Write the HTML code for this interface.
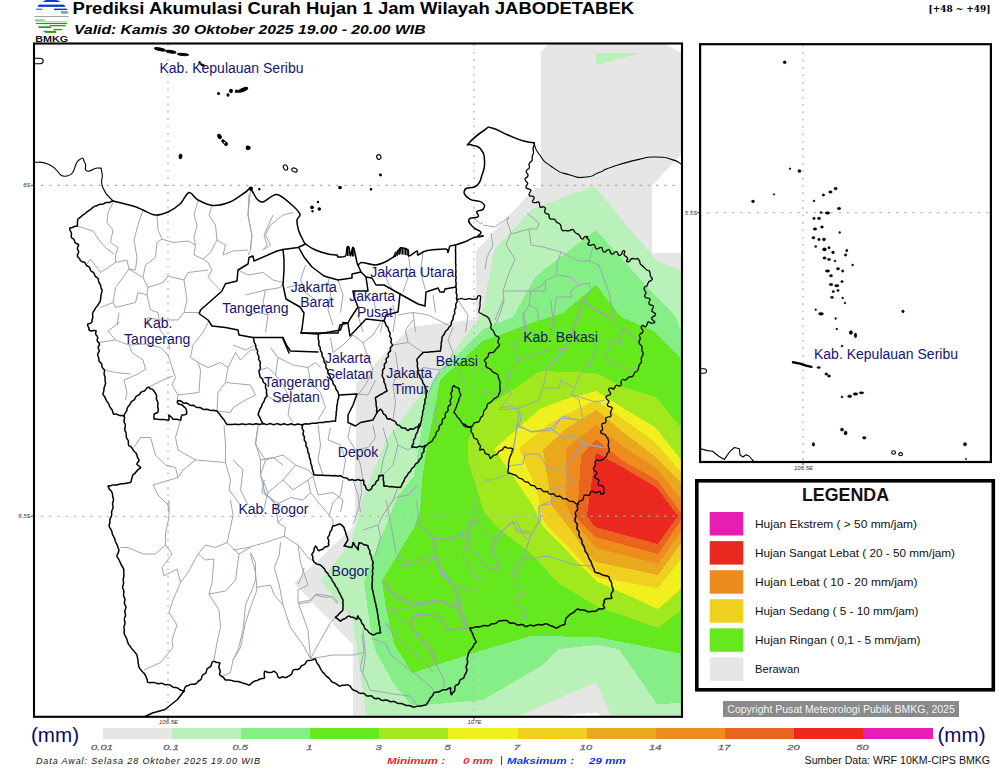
<!DOCTYPE html>
<html lang="id"><head><meta charset="utf-8"><title>Prediksi Akumulasi Curah Hujan 1 Jam Wilayah JABODETABEK</title>
<style>
html,body{margin:0;padding:0;background:#fff;}
body{width:1000px;height:769px;overflow:hidden;font-family:"Liberation Sans",sans-serif;}
svg{display:block;}
text{font-family:"Liberation Sans",sans-serif;}
.lab{font-size:14px;fill:#15156e;}
.leg{font-size:11px;fill:#111;}
.tick{font-size:7.8px;font-style:italic;fill:#666;stroke:#777;stroke-width:0.35;}
.ax{font-size:6px;font-style:italic;fill:#333;}
</style></head><body>
<svg width="1000" height="769" viewBox="0 0 1000 769">
<defs>
<clipPath id="cm"><rect x="34" y="43.5" width="648" height="673"/></clipPath>
<clipPath id="ci"><rect x="700" y="44" width="291" height="418"/></clipPath>
<filter id="bl" x="-10%" y="-30%" width="120%" height="160%"><feGaussianBlur stdDeviation="0.35"/></filter>
</defs>
<rect width="1000" height="769" fill="#fff"/>

<g clip-path="url(#cm)">
<g shape-rendering="crispEdges">
<polygon points="541,52 548,44 665,44 682,53 682,153 652,186 652,252.6 682,252.6 682,716 353,716 353,645 294,583 355,525 356,384 410,327 476,319.5 476,251 535,188 541,188" fill="#e6e6e4"/>
<polygon points="596.4,53 640,53 596.4,65" fill="#baf0ba"/>
<polygon points="594,186 657,261 682,271 682,716 611,716 596,682 519,716 366,716 360,668 352,618 321,581 352,540 362,500 386,440 478,320 483.5,307 494,250 532,209" fill="#baf0ba"/>
<polygon points="596,230 657,298 675,315 682,333 682,703 657,704 619,649 596,645 577,647 559,649 541,666 483,700 412,706 394,684 376,652 372,638 364,582 380,540 398,496 414,476 420,440 426,400 436,376 483,329 513,317 536,276" fill="#86ee86"/>
<polygon points="596,285 621,317 653,331 682,360 682,654 658,649 596,637 531,636 483,650 412,673 394,644 386,608 382,581 398,554 414,528 420,512 422,480 428,440 434,412 440,380 483,341 537,321 563,313" fill="#66e81e"/>
<polygon points="596,373 623,387 656,397 682,429 682,609 658,628 596,606 558,583 530,552 500,530 484,512 468,460 468,440 483,410 506,394 540,371" fill="#a2e81e"/>
<polygon points="596,391 623,408 656,428 682,461 682,588 658,609 596,581 543,526 533,506 513,476 494,449 540,409 563,400" fill="#f0f01e"/>
<polygon points="596,400 623,419 656,443 682,473 682,558 658,588 596,577 575,554 551,530 543,520 538,494 519,448 549,424 563,416" fill="#f0d01e"/>
<polygon points="596,410 623,432 656,457 682,484 682,542 658,575 596,562 587,554 571,530 552,506 543,450 567,428" fill="#eaa81e"/>
<polygon points="596,425 623,446.5 656,468 682,500 682,530 658,564 596,548 573,520 566,504 566,448" fill="#ee8c1e"/>
<polygon points="596,439 623,461 657,480 682,514 682,519 658,554 595,537 577,518 581,456" fill="#ea6420"/>
<polygon points="596,453 623,467.5 657,488 678,516 658,544 595,527 587,516 591,486" fill="#ea2820"/>
<polygon points="557,716 597,712.5 600,716" fill="#fff"/>
</g>
<g fill="none" stroke="#9ea5b3" stroke-width="1" stroke-linejoin="round">
<path d="M113 202.5 L108 212.5 L107 222.5 L113 230 L110.5 242.5 L118 247.5 L115.5 255 L115.5 262.5"/>
<path d="M77 226 L93 231 L99 240 L105.5 247.5 L114 254"/>
<path d="M87 264 L90.5 259 L100.5 272.5 L115.5 262.5 L127 260 L129 269 L115.5 287.5 L113 302.5 L100.5 307.5"/>
<path d="M143 210 L138 225 L134 240 L137 257.5 L135.5 270 L129 269"/>
<path d="M157 215 L158 230 L162 239 L157 242.5 L155.5 257.5 L145.5 265 L143 277.5 L148 287.5"/>
<path d="M162 239 L173 242.5 L188 241 L195.5 245"/>
<path d="M198 201 L194 215 L197 225 L194 237.5 L195.5 245 L194 255 L203 259 L208 262.5"/>
<path d="M212 206 L209 215 L215.5 225 L217 240 L210.5 252.5 L203 259"/>
<path d="M249 194 L248 215 L252 235 L250.5 250 L248 255"/>
<path d="M217 240 L225.5 245 L223 255 L233 251 L248 250"/>
<path d="M208 262.5 L212 270 L208 277.5 L220.5 290"/>
<path d="M208 270 L188 272.5 L184 280 L187 300 L184 312.5 L199 312.5"/>
<path d="M148 287.5 L163 282.5 L168 276 L184 280"/>
<path d="M129 269 L143 277.5"/>
<path d="M148 287.5 L147 295 L138 292.5 L135.5 302.5 L115.5 307.5 L113 302.5"/>
<path d="M147 295 L150.5 310 L158 312.5 L159 320 L148 317.5 L147 325"/>
<path d="M159 320 L178 320 L184 312.5"/>
<path d="M273 215 L264 235 L267 245 L263 250"/>
<path d="M119 312.5 L117 325 L119 322.5"/>
<path d="M99 342.5 L115.5 340 L108 331 L119 322.5"/>
<path d="M115.5 340 L129 345 L132 352.5 L143 360 L145.5 369 L138 374 L124 380 L127 392.5 L125.5 400"/>
<path d="M104 370 L115.5 372.5 L130.5 374"/>
<path d="M129 345 L145.5 344 L160.5 347.5 L168 355 L173 370 L175.5 377.5 L172 385 L178 395 L177 401"/>
<path d="M149 387 L163 380 L173 376"/>
<path d="M193 345 L190.5 357.5 L198 362.5 L200.5 370 L199 392.5 L178 395"/>
<path d="M193 345 L203 332.5 L208 322.5"/>
<path d="M198 362.5 L208 367.5 L220.5 362.5 L228 367.5 L225.5 382.5 L218 392.5 L217 411"/>
<path d="M228 367.5 L235.5 352.5 L240.5 360 L250.5 350 L257 350"/>
<path d="M225.5 382.5 L250.5 385 L255.5 395 L245.5 400 L233 407.5 L230.5 412.5 L217 411"/>
<path d="M180.5 420 L175.5 437.5 L178 450 L195.5 460 L225.5 462.5"/>
<path d="M224 425 L225.5 445 L225.5 462.5 L230.5 480 L229 490 L240.5 505"/>
<path d="M195.5 460 L183 470 L178 477.5 L153 485 L158 495 L168 505 L169 512"/>
<path d="M134 447.5 L140.5 437.5 L150.5 437.5 L155.5 455 L165.5 465 L175.5 467.5 L178 477.5"/>
<path d="M258 425 L255.5 442.5 L260.5 460 L260.5 475 L265.5 495 L280.5 505"/>
<path d="M260.5 460 L273 457.5 L283 465"/>
<path d="M159 320 L160 330 L168 340 L170 350"/>
<path d="M169 500 L169 517.5 L165.5 532.5 L165.5 545 L155.5 554 L143 554 L128 547.5 L120.5 547.5"/>
<path d="M165.5 545 L172 554 L162 567.5 L164 576 L177 569 L180.5 582.5 L173 600 L169 612.5 L177 625 L172 640 L173 647.5 L160.5 662.5 L144 670"/>
<path d="M180.5 582.5 L188 572.5 L198 554 L205.5 545 L215.5 547.5 L227 542.5 L230.5 527.5 L233 515 L230.5 500"/>
<path d="M198 554 L205.5 560 L214 559 L212 582.5 L209 594 L219 610 L220.5 627.5 L217 642.5 L214 660"/>
<path d="M209 594 L225.5 591 L235.5 580 L239 554 L227 542.5"/>
<path d="M239 554 L250.5 547.5"/>
<path d="M250.5 554 L255.5 572.5 L257 590 L250.5 607.5 L245.5 622.5 L240.5 647.5 L233 660 L230.5 672.5 L223 676"/>
<path d="M233 550 L248 547.5 L265.5 542.5 L284.25 536.25 L285.5 527.5 L278 522.5 L283 517.5"/>
<path d="M284.25 536.25 L298 545 L308 557.5 L315.5 562.5"/>
<path d="M280.5 542.5 L279.25 555 L274.25 567.5 L279.25 585 L283 605 L290.5 627.5 L303 645 L310.5 658.75"/>
<path d="M250.5 552.5 L255.5 562.5 L255.5 580 L253 587.5 L245.5 605 L243 630 L238 650 L233 660"/>
<path d="M255.5 587.5 L270.5 585 L274.25 595 L283 605"/>
<path d="M298 545 L300.5 562.5 L308 585 L298 590 L298 602.5 L308 630 L310.5 658.75"/>
<path d="M298 602.5 L310.5 600 L315.5 595 L325.5 597.5 L333 596.25 L338 602.5"/>
<path d="M310.5 658.75 L320.5 640 L330.5 622.5 L335.5 617.5"/>
<path d="M310.5 658.75 L333 655 L353 655 L363 652.5"/>
<path d="M343 480 L340.5 495 L333 502.5 L329.25 515 L333 520 L333 526.25"/>
<path d="M263 490 L275.5 505 L290.5 497.5 L303 500 L310.5 492.5 L308 480"/>
<path d="M310.5 492.5 L320.5 505 L329.25 515"/>
<path d="M275.5 505 L278 522.5"/>
<path d="M353 525 L358 510 L361.75 492.5 L360.5 480"/>
<path d="M363 530 L378 525 L383 515 L393 500 L398 487.5"/>
<path d="M378 525 L380.5 537.5 L375.5 555"/>
<path d="M383 515 L395.5 497.5 L408 495 L418 485"/>
<path d="M418 525 L433 537.5 L448 540 L468 532.5 L473 520 L483 525"/>
<path d="M433 537.5 L435.5 555 L418 560 L408 562.5 L398 555"/>
<path d="M435.5 555 L440.5 572.5 L453 585 L458 597.5 L468 627.5"/>
<path d="M383 580 L393 592.5 L408 602.5 L423 605 L438 600 L453 605 L458 597.5"/>
<path d="M410.5 620 L423 615 L438 616.25 L448 630 L468 627.5"/>
<path d="M410.5 620 L415.5 635 L430.5 650 L438 665"/>
<path d="M385.5 622.5 L393 635 L408 647.5 L423 660 L433 672.25"/>
<path d="M363 630 L365.5 655 L363 672.25"/>
<path d="M468 532.5 L463 555 L473 575 L483 580"/>
<path d="M453 585 L473 590"/>
<path d="M264.25 480 L261.75 492.5 L270.5 497.5 L275.5 505"/>
<path d="M233 345 L245.5 350 L255.5 345"/>
<path d="M270.5 347.5 L278 357.5 L293 365 L308 367.5 L315.5 362.5 L320.5 367.5"/>
<path d="M278 357.5 L275.5 375 L283 385 L290.5 400 L288 415 L293 422.5"/>
<path d="M308 367.5 L310.5 382.5 L320.5 392.5 L325.5 407.5 L318 420"/>
<path d="M260.5 370 L268 367.5 L275.5 375"/>
<path d="M265.5 395 L278 402.5 L290.5 400"/>
<path d="M330.5 337.5 L333 352.5 L343 345 L353 335 L363 342.5 L373 335 L380.5 322.5"/>
<path d="M363 342.5 L368 357.5 L373 370 L365.5 385 L358 395"/>
<path d="M330.5 427.5 L328 440 L340.5 445 L345.5 460 L343 475"/>
<path d="M318 425 L320.5 445 L318 460 L323 475"/>
<path d="M350.5 425 L348 437.5 L355.5 450 L368 447.5 L375.5 437.5 L373 425"/>
<path d="M355.5 450 L360.5 465 L363 480"/>
<path d="M393 345 L408 342.5 L423 352.5"/>
<path d="M395.5 352.5 L398 370 L393 385 L395.5 402.5 L393 420"/>
<path d="M408 342.5 L405.5 330 L413 320"/>
<path d="M375.5 380 L368 395 L356.75 393.75"/>
<path d="M258 427.5 L255.5 445 L265.5 460 L260.5 475 L268 492.5 L263 512.25"/>
<path d="M265.5 460 L283 455 L295.5 465 L308 470 L313 475"/>
<path d="M268 492.5 L283 480 L293 490 L308 480 L313 476.25"/>
<path d="M283 480 L295.5 465"/>
<path d="M313 476.25 L318 495 L333 492.5 L343 500 L340.5 512.25"/>
<path d="M233 460 L243 470 L240.5 490 L248 505"/>
<path d="M353 480 L358 495 L360.5 512.25"/>
<path d="M440.5 402.5 L433 415 L438 427.5"/>
<path d="M458 370 L465.5 385 L460.5 395"/>
<path d="M473 362.5 L483 370"/>
<path d="M383 427.5 L388 445 L383 460 L380.5 475"/>
<path d="M393 430 L398 445 L408 450 L411.75 447.5"/>
<path d="M398 445 L393 465 L383 475"/>
<path d="M428 395 L433 382.5 L440.5 370 L448 365 L453 352.5 L448 340 L453 327.5"/>
<path d="M440.5 370 L423 367.5 L418 372.5"/>
<path d="M250.5 190 L248 215 L251.75 235 L250.5 250"/>
<path d="M293 212.5 L283 215 L270.5 225 L265.5 235 L270.5 245 L263 250"/>
<path d="M305.5 265 L300.5 280 L305.5 292.5 L315.5 300"/>
<path d="M328 277.5 L330.5 295 L328 310 L333 325"/>
<path d="M286.75 287.5 L298 285 L305.5 292.5"/>
<path d="M338 280 L343 295 L340.5 312.5"/>
<path d="M408 252.5 L410.5 270 L405.5 285 L403 292.5"/>
<path d="M423 252.5 L420.5 272.5 L425.5 290"/>
<path d="M383 270 L388 282.5 L393 290"/>
<path d="M265.5 290 L263 302.5 L268 315 L265.5 332.25"/>
<path d="M265.5 290 L280.5 287.5 L283 282.5"/>
<path d="M245.5 295 L255.5 292.5 L265.5 290"/>
<path d="M248 315 L258 312.5 L268 315"/>
<path d="M238 270 L248 275 L263 272.5 L273 280 L283 282.5"/>
<path d="M458 300 L468 315 L465.5 332.25"/>
<path d="M398 315 L413 312.5 L428 315 L450.5 326.25"/>
<path d="M413 312.5 L415.5 332.25"/>
<path d="M373 295 L375.5 310 L383 320 L380.5 332.25"/>
<path d="M358 315 L363 332.25"/>
<path d="M393 305 L395.5 315 L393 332.25"/>
<path d="M433 295 L435.5 312.5"/>
<path d="M473 217.5 L480.5 223.75 L483 222.5"/>
<path d="M509 217 L507 221 L511 233 L506 245 L515 259 L509 273 L503 291 L504 301 L499 317 L495 325"/>
<path d="M483 225 L495 227 L509 217"/>
<path d="M527 213 L539 223 L537 229 L529 229 L511 234"/>
<path d="M529 229 L531 245 L543 247 L561 252 L579 261 L589 261 L593 247"/>
<path d="M561 252 L557 263 L557 275 L545 281 L546 291 L503 291"/>
<path d="M557 275 L571 277 L579 285 L589 283 L592 291 L583 299 L587 303"/>
<path d="M579 285 L571 291 L571 297 L557 297 L553 317 L551 333"/>
<path d="M545 281 L543 285 L531 291 L529 305 L523 315 L525 333"/>
<path d="M589 261 L599 265 L609 293 L613 313 L615 319"/>
<path d="M583 299 L579 313 L571 333"/>
<path d="M583 301 L595 311 L607 317 L623 329 L639 341"/>
<path d="M623 329 L619 337 L621 345"/>
<path d="M529 305 L537 309 L539 321"/>
<path d="M491 233 L493 245 L487 257 L485 269"/>
<path d="M503 300 L495 320"/>
<path d="M523 312 L527 328 L513 344 L519 360 L509 372 L507 388 L511 394 L499 410 L519 408 L521 420 L517 428"/>
<path d="M551 300 L553 324 L549 332"/>
<path d="M579 300 L581 312 L571 334 L567 348 L547 350 L539 354 L523 358 L519 360"/>
<path d="M583 300 L595 310 L613 318 L623 328 L635 338 L641 342"/>
<path d="M623 328 L619 336 L621 344 L611 340 L605 360 L619 366 L627 370 L635 368"/>
<path d="M597 340 L593 360 L587 366 L579 376 L575 388 L571 394 L579 400 L583 420"/>
<path d="M567 348 L563 352 L547 368 L543 388 L559 388 L561 380 L567 384 L575 388"/>
<path d="M543 388 L539 400 L519 408"/>
<path d="M571 394 L583 398 L595 402 L605 400"/>
<path d="M517 424 L531 432 L551 428 L563 416 L579 420 L583 420"/>
<path d="M551 428 L563 438 L575 436 L587 444 L607 448"/>
<path d="M517 424 L515 440 L513 453.8"/>
<path d="M507 388 L495 394 L483 392"/>
<path d="M499 408 L513 406 L519 414 L517 426 L533 432 L553 430 L561 418 L579 420"/>
<path d="M517 426 L515 440 L513 448"/>
<path d="M553 430 L563 438 L573 436 L585 444 L603 448"/>
<path d="M585 444 L571 458 L565 468 L567 476 L575 480 L565 486 L549 490 L545 492"/>
<path d="M525 454 L539 454 L547 468 L565 468"/>
<path d="M509 466 L523 464 L525 454"/>
<path d="M483 480 L491 480 L509 474"/>
<path d="M553 496 L551 504 L539 506 L539 520 L529 540 L525 553.8"/>
<path d="M483 530 L495 540 L509 524 L517 522 L525 538 L529 540"/>
<path d="M553 500 L539 506 L541 520 L531 534 L523 560 L513 580 L523 592 L515 600 L527 614 L521 620 L522 626"/>
<path d="M523 560 L547 556 L575 565 L591 566"/>
<path d="M513 521 L499 534 L491 554 L499 560 L497 570 L483 566"/>
<path d="M513 521 L517 532 L531 534"/>
<path d="M418 524 L434 538 L458 538 L474 518 L474 500"/>
<path d="M434 538 L436 556 L422 566 L400 564 L398 558"/>
<path d="M436 556 L446 576 L458 594 L458 608 L468 628"/>
<path d="M384 580 L390 594 L410 604 L436 600 L450 606 L458 608"/>
<path d="M388 608 L410 608 L416 604"/>
<path d="M410 620 L418 614 L438 616 L450 630 L468 628"/>
<path d="M410 620 L414 632 L430 646 L434 653.8"/>
<path d="M474 518 L468 536 L468 548 L478 554 L484 566 L498 570 L500 562"/>
<path d="M490 556 L496 536 L512 522 L518 530 L530 532"/>
<path d="M512 576 L518 560 L526 556"/>
<path d="M416 500 L418 512 L418 524"/>
<path d="M386 500 L390 520 L396 552 L398 558"/>
<path d="M298 584 L302 576 L304 568"/>
<path d="M298 604 L310 602 L316 594 L330 596 L338 604"/>
<path d="M362 634 L364 652 L360 668 L366 680 L370 690 L394 694 L410 696 L418 706"/>
<path d="M372 638 L386 644 L390 654 L402 664 L418 676 L432 688 L434 694"/>
<path d="M386 608 L402 620 L418 634 L428 648 L438 668 L444 680 L444 688"/>
<path d="M386 624 L398 634"/>
<path d="M410 620 L418 614 L438 616 L448 630 L468 628"/>
<path d="M386 588 L402 598 L418 606 L438 600 L456 606 L460 618 L468 628"/>
<path d="M438 568 L450 580 L458 594 L460 618"/>
</g>
<g stroke="#adadad" fill="none">
<path d="M41 185.4H682M41 516.2H682" stroke-width="1.1" stroke-dasharray="2.4 5.8"/><path d="M168 44.5V716M474 44.5V716" stroke-width="1.3" stroke-dasharray="1.6 5.78"/>
</g>
<g fill="none" stroke="#000" stroke-width="1.1" stroke-linejoin="round">
<path d="M35 162C40.0 163.0 39.3 160.3 50 165C60.7 169.7 57.3 177.7 67 176C76.7 174.3 73.0 164.3 79 160C85.0 155.7 82.3 159.3 85 163C87.7 166.7 82.7 169.3 87 171C91.3 172.7 93.0 167.3 98 168C103.0 168.7 100.3 166.3 102 173C103.7 179.7 99.3 178.7 103 188C106.7 197.3 109.7 196.7 113 201"/>
<path d="M534 142.7C535.7 146.5 533.0 145.9 539 154C545.0 162.1 541.7 160.0 552 167C562.3 174.0 558.7 171.7 570 175C581.3 178.3 576.3 177.8 586 177C595.7 176.2 590.3 175.9 599 172.6C607.7 169.3 599.0 171.3 612 167C625.0 162.7 623.3 162.9 638 159.6C652.7 156.3 644.7 157.0 656 157C667.3 157.0 663.7 157.3 672 159.6C680.3 161.9 678.0 162.5 681 164"/>
</g>
<g fill="none" stroke="#000" stroke-width="1.5" stroke-linejoin="round" stroke-linecap="round">
<path d="M113 201C116.0 201.8 128.5 204.7 133 206C137.5 207.3 139.7 208.7 143 210C146.3 211.3 151.2 214.7 155 215C158.8 215.3 164.2 213.7 168 212C171.8 210.3 176.8 206.9 180 204C183.2 201.1 186.3 193.1 189 192.5C191.7 191.9 194.4 198.1 198 200C201.6 201.9 208.2 205.2 213 205.5C217.8 205.8 225.2 203.9 230 202C234.8 200.1 241.9 194.4 245 192.5C248.1 190.6 248.7 188.0 250.5 189C252.3 190.0 255.1 197.1 257 199C258.9 200.9 260.0 202.7 263 202C266.0 201.3 272.5 193.9 277 194.5C281.5 195.1 289.6 203.0 293 206C296.4 209.0 299.4 212.4 300 214.5C300.6 216.6 297.2 217.7 297 220C296.8 222.3 297.6 227.0 298.5 230C299.4 233.0 301.9 237.9 303 240C304.1 242.1 303.6 242.5 305.5 244C307.4 245.5 312.1 248.5 315.5 250C318.9 251.5 324.8 253.2 328 254C331.2 254.8 335.5 254.6 337 255C338.5 255.4 336.7 256.9 338 257C339.3 257.1 344.1 257.4 345.5 256C346.9 254.6 346.5 248.8 347 247.5C347.5 246.2 348.5 246.2 349 247.5C349.5 248.8 350.0 255.9 350.5 256C351.0 256.1 352.0 249.1 352.5 248C353.0 246.9 353.3 246.8 354 249C354.7 251.2 356.4 260.1 357 262.5C357.6 264.9 357.2 265.0 358 265C358.8 265.0 359.4 262.5 362 262.5C364.6 262.5 371.8 265.2 375.5 265C379.2 264.8 383.8 262.6 387 261C390.2 259.4 395.0 255.9 397 254C399.0 252.1 398.9 248.6 400.5 248C402.1 247.4 406.7 248.8 408 250C409.3 251.2 407.6 255.8 409 256C410.4 256.1 415.6 251.2 417 251C418.4 250.8 416.7 255.0 418 255C419.3 255.0 421.4 251.9 425.5 251C429.6 250.1 442.1 248.8 445.5 249C448.9 249.2 447.3 252.9 448 252.5C448.7 252.1 448.9 247.1 450 246C451.1 244.9 452.9 245.8 455.5 245C458.1 244.2 464.2 242.1 467 241C469.8 239.9 471.6 238.2 474 237.5C476.4 236.8 481.6 236.2 483 236"/>
<path d="M113 201C112.5 201.1 112.1 201.1 111.2 201.5C110.3 201.9 110.5 202.2 109.5 202.4C108.5 202.6 108.6 202.3 107.6 202.4C106.6 202.5 106.7 202.3 105.7 202.6C104.7 202.9 104.9 203.1 104 203.6C103.1 204.1 103.3 204.1 102.3 204.3C101.3 204.5 101.4 204.2 100.4 204.3C99.4 204.4 99.5 204.4 98.5 204.8C97.5 205.2 97.7 205.4 96.8 205.7C95.9 206.0 96.0 205.7 95.1 206.1C94.2 206.5 94.2 206.5 93.3 207.1C92.4 207.7 92.6 207.7 91.8 208.4C91.0 209.1 91.2 209.1 90.3 209.7C89.4 210.3 89.5 210.2 88.6 210.8C87.7 211.4 87.7 211.3 86.9 211.9C86.1 212.5 86.2 212.5 85.5 213.2C84.8 213.9 84.9 213.8 84.1 214.4C83.3 215.0 83.2 214.8 82.4 215.4C81.6 216.0 81.7 215.9 81 216.6C80.3 217.3 80.4 217.3 79.6 217.9C78.8 218.5 78.6 218.3 78.1 219C77.6 219.7 77.8 219.8 77.6 220.7C77.4 221.6 77.4 221.5 77.4 222.5C77.4 223.5 77.6 223.3 77.5 224.3C77.4 225.3 77.6 225.6 77 226.1C76.4 226.6 76.1 226.0 75.2 226.2C74.3 226.4 74.4 226.6 73.5 227C72.6 227.4 72.7 227.5 71.8 227.8C70.9 228.1 70.5 227.4 70 228C69.5 228.6 69.7 229.0 70 230.1C70.3 231.2 70.6 231.0 71 232C71.4 233.0 71.4 232.8 71.5 233.9C71.6 235.0 71.1 235.0 71.2 236.1C71.3 237.2 71.3 237.3 71.9 238.1C72.5 238.9 72.9 238.3 73.6 239C74.3 239.7 74.0 239.8 74.4 240.8C74.8 241.8 74.5 241.9 75.1 242.6C75.7 243.3 75.9 243.0 76.8 243.6C77.7 244.2 78.3 244.1 78.6 245C78.9 245.9 78.1 245.9 77.8 246.9C77.5 247.9 77.3 247.7 77.4 248.7C77.5 249.7 78.0 249.6 78.3 250.6C78.6 251.6 78.8 251.4 78.6 252.4C78.4 253.4 77.9 253.3 77.6 254.3C77.3 255.3 77.3 255.2 77.5 256.1C77.7 257.0 77.7 256.9 78.3 257.6C78.9 258.3 79.1 258.0 79.7 258.9C80.3 259.8 79.9 260.1 80.6 260.8C81.3 261.5 81.4 261.3 82.4 261.7C83.4 262.1 83.6 261.6 84.4 262.2C85.2 262.8 84.9 262.9 85.5 263.8C86.1 264.7 85.8 264.7 86.5 265.4C87.2 266.1 87.4 265.9 88.2 266.4C89.0 266.9 89.1 266.6 89.6 267.4C90.1 268.2 89.8 268.4 90.2 269.3C90.6 270.2 90.4 270.2 91 270.9C91.6 271.6 91.8 271.3 92.6 271.9C93.4 272.5 93.5 272.3 94 273.1C94.5 273.9 94.2 274.0 94.6 274.9C95.0 275.8 94.9 275.7 95.5 276.4C96.1 277.1 96.3 276.8 97 277.5C97.7 278.2 97.9 278.0 98.3 278.9C98.7 279.8 98.3 279.9 98.5 280.9C98.7 281.9 98.6 281.8 99.1 282.7C99.6 283.6 99.7 283.4 100.2 284.4C100.7 285.4 100.6 285.3 100.8 286.3C101.0 287.3 100.8 287.2 101.1 288.2C101.4 289.2 101.8 289.0 102 290C102.2 291.0 102.0 290.9 101.8 292C101.6 293.1 101.5 292.9 101.3 294C101.1 295.1 101.0 294.9 100.9 296C100.8 297.1 100.9 296.9 100.8 298C100.7 299.1 100.6 299.0 100.4 300C100.2 301.0 100.3 300.9 99.9 301.9C99.5 302.9 99.4 302.8 98.8 303.7C98.2 304.6 98.4 304.5 97.8 305.4C97.2 306.3 97.1 306.0 96.4 306.9C95.7 307.8 95.8 307.7 95.2 308.6C94.6 309.5 94.9 309.5 94.3 310.4C93.7 311.3 93.6 311.0 93.1 312C92.6 313.0 92.7 312.9 92.6 314C92.5 315.1 92.7 314.9 92.7 316C92.7 317.1 92.9 316.9 92.7 318C92.5 319.1 92.2 319.0 92 320C91.8 321.0 92.4 320.9 91.9 321.8C91.4 322.7 91.3 322.8 90.2 323.4C89.1 324.0 88.5 323.3 87.9 324C87.3 324.7 87.6 325.1 87.9 326.1C88.2 327.1 88.7 326.9 89 327.9C89.3 328.9 88.4 328.9 89 329.7C89.6 330.5 89.9 330.7 91.1 330.9C92.3 331.1 92.1 330.6 93.4 330.6C94.7 330.6 95.4 330.3 96 330.9C96.6 331.5 95.6 331.8 95.6 332.8C95.6 333.8 95.5 333.7 95.9 334.6C96.3 335.5 96.7 335.2 97.2 336.1C97.7 337.0 97.7 336.9 97.7 337.9C97.7 338.9 97.2 338.9 97.2 339.9C97.2 340.9 97.2 340.7 97.7 341.6C98.2 342.5 98.6 342.2 99.1 343.1C99.6 344.0 99.6 344.0 99.4 345C99.2 346.0 98.6 345.8 98.3 346.7C98.0 347.6 98.2 347.5 98.4 348.5C98.6 349.5 99.1 349.4 99.2 350.4C99.3 351.4 99.1 351.3 98.7 352.2C98.3 353.1 97.9 353.0 97.7 353.9C97.5 354.8 97.7 354.8 97.9 355.7C98.1 356.6 98.2 356.3 98.5 357.3C98.8 358.3 98.7 358.2 98.9 359.3C99.1 360.4 98.7 360.4 99.2 361.3C99.7 362.2 100.0 361.9 100.7 362.8C101.4 363.7 101.5 363.5 101.8 364.5C102.1 365.5 101.7 365.6 102 366.6C102.3 367.6 102.3 367.4 102.9 368.3C103.5 369.2 104.0 369.1 104.4 370C104.8 370.9 104.5 370.8 104.4 371.8C104.3 372.8 104.1 372.6 104.1 373.6C104.1 374.6 104.2 374.5 104.5 375.4C104.8 376.3 104.9 376.2 105.1 377.1C105.3 378.0 105.1 377.9 105.1 378.9C105.1 379.9 105.0 379.7 105.1 380.7C105.2 381.7 105.4 381.5 105.5 382.5C105.6 383.5 105.5 383.5 105.3 384.5C105.1 385.5 104.9 385.3 104.6 386.3C104.3 387.3 104.3 387.2 104.1 388.2C103.9 389.2 104.1 389.2 103.9 390.2C103.7 391.2 103.8 391.1 103.5 392.1C103.2 393.1 102.8 393.1 102.9 394.1C103.0 395.1 103.3 394.8 103.9 395.7C104.5 396.6 104.5 396.4 105 397.3C105.5 398.2 105.4 398.2 105.8 399.1C106.2 400.0 106.1 399.9 106.6 400.8C107.1 401.7 107.1 401.5 107.7 402.4C108.3 403.3 108.3 403.1 108.8 404C109.3 404.9 109.1 404.9 109.5 405.9C109.9 406.9 109.8 406.8 110.3 407.6C110.8 408.4 110.9 408.2 111.5 409C112.1 409.8 112.0 409.8 112.4 410.7C112.8 411.6 112.5 411.6 112.9 412.5C113.3 413.4 113.1 413.8 114 414.2C114.9 414.6 115.0 413.8 116.1 414C117.2 414.2 117.0 414.4 118 414.8C119.0 415.2 118.8 415.4 119.9 415.6C121.0 415.8 120.9 415.3 122 415.4C123.1 415.5 123.5 415.8 124 416"/>
<path d="M124 416 L124.6 414.1 L125.7 412.4 L126.8 410.6 L127.1 408.6 L128 406.7 L129.3 405.3 L130.4 403.6 L131.2 401.8 L132.9 400.7 L134.5 399.6 L135.3 397.7 L136.4 396.1 L138.2 395.3 L139.8 394.2 L140.8 392.3 L142.6 391.4 L144.6 390.9 L145.9 389.3 L147.1 387.7 L148.9 387.2 L150.3 388.7 L152.6 389.4 L154 391 L155 392.6 L156 394.3 L156.7 396 L156.4 397.9 L156.5 399.7 L157.5 401.4 L158 403.1 L157.8 405 L157.7 406.9 L158.2 408.8 L158.2 410.6 L157.9 412.3 L156 413.2 L154.2 414 L153.9 416.5 L154 419 L155.9 419 L157.7 419.3 L159.6 419.5 L161.5 419.5 L163.4 419.5 L165.2 419.8 L167.1 420 L168.9 420 L169 417.5 L168.9 415.1 L170.4 416.3 L171.8 417.6 L173 419.2 L174.9 419.3 L176.8 419.3 L178.6 419.7 L180.8 420.1 L181 417.4 L182 415 L184.6 414.8 L186.6 414.1 L186.6 411.8 L186.4 409.6 L185.3 407.9 L183.7 406.7 L182.4 405 L180.4 404.5 L178.4 404 L177.2 402.6 L177.9 400.8 L179.8 400.6 L181.5 401.3 L182.8 402.7 L184.6 403.2 L186.5 403 L188.1 403.7 L189.5 405 L191.2 405.4 L193.1 405.2 L194.8 406 L196.2 407.2 L197.9 407.6 L199.8 407.5 L201.4 408.2 L203 409.3 L204.7 409.4 L206.5 409.2 L208.3 409.6 L210 410.3 L211.7 410.4 L213.5 410.3 L215.3 410.7 L216.9 411.1 L218.1 412.5 L219.5 413.9 L220.5 415.5 L221.6 417.1 L222.9 418.5 L224.1 419.9 L225 421.5 L225.9 423.1 L227 424.4 L228.8 424.4 L230.6 424.5 L232.4 424.5 L234.2 424.3 L236 424.3 L237.8 424.5 L239.6 424.5 L241.4 424.1 L243.2 424.1 L245 424.5 L246.8 424.4 L248.6 423.9 L250.4 424 L252.2 424.5 L254 424.3 L255.8 423.7 L257.6 424 L259.4 424.5 L261.2 424.1 L263 423.5 L264.8 424 L266.5 424.6 L268.3 424.1 L270.1 423.5 L271.9 424.1 L273.6 424.7 L275.4 424.1 L277.2 423.6 L279 424.2 L280.7 424.8 L282.5 424.2 L284.3 423.7 L286 424.4 L287.8 424.9 L289.6 424.2 L291.4 423.8 L293.1 424.5 L294.9 424.9 L296.7 424.3 L298.5 424 L300.2 424.6 L302 424.9 L303.7 424.2 L305.5 423.8 L307.3 424.1 L309.1 424 L310.8 423.5 L312.6 423.2 L314.4 423.3 L316.1 423.2 L317.9 422.7 L319.6 422.5 L321.4 422.6 L323.2 422.4 L324.9 422 L326.7 421.8 L328.5 421.8 L330.2 421.6 L332 421.3 L333.7 421.1 L335.5 421"/>
<path d="M124 416C124.2 416.5 124.6 416.9 124.6 418C124.6 419.1 124.2 419.0 124.1 420.1C124.0 421.2 123.9 421.1 124.2 422.2C124.5 423.3 124.8 423.1 125.1 424.2C125.4 425.3 125.4 425.2 125.3 426.3C125.2 427.4 124.9 427.3 124.8 428.4C124.7 429.5 124.7 429.4 125 430.5C125.3 431.6 125.6 431.3 125.9 432.4C126.2 433.5 126.2 433.3 126.3 434.5C126.4 435.7 126.1 435.7 126.3 436.8C126.5 437.9 126.6 437.8 127.1 438.8C127.6 439.8 127.9 439.6 128.2 440.7C128.5 441.8 128.3 441.7 128.4 442.9C128.5 444.1 128.1 444.3 128.7 445.3C129.3 446.3 129.8 445.9 130.8 446.8C131.8 447.7 131.6 447.5 132.4 448.6C133.2 449.7 132.9 449.8 133.7 450.8C134.5 451.8 134.7 451.6 135.5 452.5C136.3 453.4 136.1 453.3 136.6 454.3C137.1 455.3 136.9 455.3 137.2 456.3C137.5 457.3 137.4 457.2 137.9 458.2C138.4 459.2 138.9 459.0 139 460C139.1 461.0 138.7 461.0 138.1 462.1C137.5 463.2 136.7 463.1 136.9 464.1C137.1 465.1 137.7 464.9 138.7 465.8C139.7 466.7 140.5 466.7 140.6 467.6C140.7 468.5 139.9 468.3 139 469C138.1 469.7 138.2 469.6 137.4 470.4C136.6 471.2 136.7 471.1 136 472C135.3 472.9 135.4 472.8 134.6 473.6C133.8 474.4 133.7 474.0 133 475C132.3 476.0 132.5 476.2 132.1 477.5C131.7 478.8 131.8 478.7 131.4 480C131.0 481.3 131.3 481.8 130.5 482.5C129.7 483.2 129.5 482.5 128.4 482.7C127.3 482.9 127.5 483.0 126.4 483.2C125.3 483.4 125.5 483.5 124.4 483.6C123.3 483.7 123.4 483.6 122.3 483.7C121.2 483.8 121.3 483.7 120.2 483.9C119.1 484.1 119.3 484.2 118.2 484.5C117.1 484.8 117.3 484.9 116.2 485C115.1 485.1 115.2 484.9 114.1 484.9C113.0 484.9 113.2 484.8 112.1 485.1C111.0 485.4 111.1 485.7 110.1 485.9C109.1 486.1 108.6 485.4 108.2 485.9C107.8 486.4 108.3 486.9 108.7 487.9C109.1 488.9 109.1 488.8 109.8 489.7C110.5 490.6 110.7 490.3 111.3 491.2C111.9 492.1 111.9 492.1 112.2 493.1C112.5 494.1 112.4 494.0 112.6 495C112.8 496.0 112.6 495.9 112.8 497C113.0 498.1 113.3 497.9 113.4 499C113.5 500.1 113.5 499.9 113.3 501C113.1 502.1 112.8 501.9 112.6 503C112.4 504.1 112.6 503.8 112.7 505C112.8 506.2 113.2 506.1 113.1 507.4C113.0 508.7 112.7 508.5 112.3 509.7C111.9 510.9 111.8 510.7 111.6 511.9C111.4 513.1 111.8 513.0 111.7 514.2C111.6 515.4 111.7 515.3 111.3 516.4C110.9 517.5 110.6 517.3 110.2 518.4C109.8 519.5 109.9 519.4 109.8 520.6C109.7 521.8 110.1 521.7 109.9 522.9C109.7 524.1 109.2 523.9 109.1 525C109.0 526.1 109.1 526.0 109.5 527C109.9 528.0 109.9 527.9 110.5 528.9C111.1 529.9 111.2 529.7 111.6 530.7C112.0 531.7 111.8 531.6 112.1 532.7C112.4 533.8 112.2 533.7 112.6 534.7C113.0 535.7 113.1 535.5 113.6 536.5C114.1 537.5 114.2 537.4 114.6 538.4C115.0 539.4 114.8 539.3 115.1 540.4C115.4 541.5 115.4 541.4 115.8 542.4C116.2 543.4 116.2 543.2 116.7 544.2C117.2 545.2 117.2 545.1 117.6 546.1C118.0 547.1 117.9 547.1 118.2 548.1C118.5 549.1 118.8 549.0 118.9 550C119.0 551.0 118.7 550.9 118.4 552C118.1 553.1 118.1 552.9 117.7 554C117.3 555.1 116.8 554.9 116.9 556C117.0 557.1 117.3 556.9 117.9 558C118.5 559.1 118.5 558.9 119.1 560C119.7 561.1 119.5 560.9 120 562C120.5 563.1 120.4 563.0 120.9 564.1C121.4 565.2 121.4 565.0 122 566C122.6 567.0 122.6 566.8 123.1 567.9C123.6 569.0 123.7 568.9 123.9 570C124.1 571.1 123.7 571.0 123.7 572.2C123.7 573.4 123.9 573.2 123.9 574.4C123.9 575.6 124.0 575.5 123.8 576.6C123.6 577.7 123.4 577.6 123.3 578.7C123.2 579.8 123.2 579.7 123.3 580.9C123.4 582.1 123.7 581.9 123.6 583.1C123.5 584.3 123.4 584.1 123.1 585.3C122.8 586.5 122.5 586.4 122.6 587.5C122.7 588.6 123.0 588.5 123.3 589.5C123.6 590.5 123.8 590.3 123.9 591.4C124.0 592.5 123.8 592.4 123.7 593.5C123.6 594.6 123.4 594.5 123.6 595.6C123.8 596.7 123.9 596.5 124.3 597.5C124.7 598.5 124.9 598.3 125 599.4C125.1 600.5 124.7 600.4 124.6 601.5C124.5 602.6 124.3 602.5 124.5 603.6C124.7 604.7 125.0 604.5 125.4 605.5C125.8 606.5 126.1 606.4 126 607.5C125.9 608.6 125.5 608.5 125.2 609.6C124.9 610.7 124.8 610.5 124.8 611.6C124.8 612.7 125.1 612.7 125.3 613.8C125.5 614.9 125.6 614.8 125.4 615.9C125.2 617.0 124.9 616.8 124.6 617.9C124.3 619.0 124.3 618.9 124.4 620C124.5 621.1 124.8 621.0 124.9 622.1C125.0 623.2 125.0 623.1 124.8 624.2C124.6 625.3 124.3 625.1 124.1 626.2C123.9 627.3 123.9 627.2 124 628.3C124.1 629.4 124.4 629.3 124.4 630.4C124.4 631.5 124.0 631.3 124.1 632.4C124.2 633.5 124.2 633.6 124.6 634.7C125.0 635.8 125.0 635.6 125.6 636.7C126.2 637.8 126.2 637.6 126.7 638.7C127.2 639.8 127.0 639.8 127.3 640.9C127.6 642.0 127.5 641.9 128 643C128.5 644.1 128.5 643.9 129.1 644.9C129.7 645.9 129.7 645.7 130.4 646.6C131.1 647.5 130.9 647.5 131.6 648.4C132.3 649.3 132.2 649.1 132.9 650C133.6 650.9 133.7 650.7 134.4 651.6C135.1 652.5 135.0 652.4 135.7 653.3C136.4 654.2 136.5 654.0 136.9 655C137.3 656.0 137.1 656.0 137.3 657.1C137.5 658.2 137.6 658.1 137.8 659.2C138.0 660.3 137.9 660.1 138 661.2C138.1 662.3 138.0 662.3 138.2 663.4C138.4 664.5 138.5 664.3 138.7 665.4C138.9 666.5 138.6 666.4 139.1 667.4C139.6 668.4 139.7 668.2 140.4 669.2C141.1 670.2 140.9 670.1 141.7 671C142.5 671.9 142.5 671.6 143.3 672.5C144.1 673.4 144.0 673.2 144.7 674.2C145.4 675.2 145.3 675.1 145.8 676.1C146.3 677.1 146.0 677.0 146.4 678C146.8 679.0 147.0 678.9 147.3 679.9C147.6 680.9 146.9 681.2 147.5 681.9C148.1 682.6 148.4 682.4 149.5 682.6C150.6 682.8 150.4 682.7 151.5 682.6C152.6 682.5 152.4 682.3 153.5 682.4C154.6 682.5 154.4 682.6 155.5 682.9C156.6 683.2 156.4 683.4 157.5 683.6C158.6 683.8 158.4 683.7 159.5 683.6C160.6 683.5 160.5 683.2 161.6 683.3C162.7 683.4 162.5 683.5 163.5 683.9C164.5 684.3 164.3 684.5 165.4 684.7C166.5 684.9 166.4 684.5 167.5 684.6C168.6 684.7 168.6 684.5 169.7 684.9C170.8 685.3 170.6 685.5 171.6 686.2C172.6 686.9 172.4 687.0 173.5 687.4C174.6 687.8 174.6 687.4 175.8 687.6C177.0 687.8 176.9 687.6 178 688.2C179.1 688.8 178.8 689.1 179.8 689.7C180.8 690.3 180.7 690.2 181.8 690.5C182.9 690.8 183.4 690.9 184 691"/>
<path d="M184 691C184.2 690.3 184.1 689.7 184.7 688.4C185.3 687.1 185.1 686.9 186.1 686.2C187.1 685.5 187.1 686.1 188.3 685.6C189.5 685.1 189.3 684.8 190.5 684.4C191.7 684.0 191.6 684.3 192.9 684.2C194.2 684.1 194.2 684.4 195.3 684C196.4 683.6 196.4 683.6 197.2 682.8C198.0 682.0 197.5 681.9 198.4 681.1C199.3 680.3 199.6 680.7 200.4 679.9C201.2 679.1 201.0 679.3 201.5 678.2C202.0 677.1 201.6 676.9 202.1 675.9C202.6 674.9 202.6 675.1 203.5 674.4C204.4 673.7 204.7 674.0 205.5 673.2C206.3 672.4 206.0 672.4 206.4 671.3C206.8 670.2 206.4 670.1 207 669.1C207.6 668.1 207.7 668.4 208.7 667.7C209.7 667.0 210.0 667.4 210.7 666.5C211.4 665.6 211.0 665.5 211.4 664.4C211.8 663.3 211.5 663.2 212.2 662.3C212.9 661.4 212.8 661.2 213.9 661.2C215.0 661.2 214.8 661.9 216.3 662.4C217.8 662.9 218.8 662.1 219.6 662.9C220.4 663.7 219.4 664.0 219.2 665.3C219.0 666.6 218.7 666.4 218.9 667.6C219.1 668.8 219.6 668.7 219.9 669.9C220.2 671.1 220.2 670.9 220.1 672.2C220.0 673.5 219.3 673.7 219.7 674.8C220.1 675.9 220.6 675.5 221.6 676.2C222.6 676.9 222.7 676.7 223.6 677.6C224.5 678.5 224.1 678.9 225 679.6C225.9 680.3 226.0 680.0 227.1 680.1C228.2 680.2 228.1 680.0 229.3 680.1C230.5 680.2 230.4 680.1 231.5 680.4C232.6 680.7 232.4 680.8 233.5 681.1C234.6 681.4 234.5 681.3 235.7 681.4C236.9 681.5 236.8 681.3 237.9 681.5C239.0 681.7 238.9 681.6 240 682C241.1 682.4 241.0 682.5 242.2 682.9C243.4 683.3 243.3 683.2 244.5 683.5C245.7 683.8 245.6 683.7 246.8 684.1C248.0 684.5 248.0 685.2 249.1 685.1C250.2 685.0 250.0 684.5 251 683.7C252.0 682.9 251.8 682.9 252.9 682.2C254.0 681.5 253.8 681.5 255 681C256.2 680.5 256.1 680.9 257.3 680.4C258.5 679.9 258.2 679.8 259.4 679.3C260.6 678.8 260.4 678.9 261.7 678.6C263.0 678.3 263.6 678.8 264.3 678C265.0 677.2 264.3 677.0 264.3 675.7C264.3 674.4 264.1 674.5 264.3 673.3C264.5 672.1 264.1 671.5 264.9 671.2C265.7 670.9 266.1 671.8 267.4 672.2C268.7 672.6 268.5 672.6 269.8 672.6C271.1 672.6 271.1 672.5 272.1 672.2C273.1 671.9 272.6 671.2 273.6 671.3C274.6 671.4 274.8 671.7 275.8 672.5C276.8 673.3 276.6 673.2 277.2 674.3C277.8 675.4 277.3 675.7 278 676.7C278.7 677.7 279.0 677.9 280 678C281.0 678.1 280.8 677.1 281.9 676.9C283.0 676.7 282.9 677.0 284 677.2C285.1 677.4 285.0 677.7 286.1 677.5C287.2 677.3 287.1 676.9 288 676.4C288.9 675.9 288.4 676.4 289.4 675.7C290.4 675.0 290.8 674.9 291.7 673.7C292.6 672.5 292.0 672.2 292.6 671.1C293.2 670.0 293.1 670.2 294.1 669.7C295.1 669.2 295.1 669.5 296.2 669.4C297.3 669.3 297.3 669.6 298.3 669.3C299.3 669.0 299.4 668.9 300.1 668.1C300.8 667.3 300.3 667.0 301.1 666.2C301.9 665.4 302.0 665.7 303 665.2C304.0 664.7 304.0 664.9 304.8 664.2C305.6 663.5 305.3 663.4 306 662.4C306.7 661.4 306.3 661.1 307.4 660.6C308.5 660.1 308.6 660.7 310 660.5C311.4 660.3 311.1 660.3 312.5 659.9C313.9 659.5 314.3 658.6 315.3 658.9C316.3 659.2 315.7 659.9 316.1 660.9C316.5 661.9 316.3 661.8 316.9 662.8C317.5 663.8 317.5 663.7 318.2 664.6C318.9 665.5 318.8 665.3 319.4 666.3C320.0 667.3 319.8 667.3 320.3 668.3C320.8 669.3 320.7 669.2 321.3 670.2C321.9 671.2 321.9 671.1 322.6 671.9C323.3 672.7 323.3 672.5 324 673.3C324.7 674.1 324.6 674.1 325.3 674.9C326.0 675.7 325.9 675.7 326.7 676.4C327.5 677.1 327.5 676.9 328.3 677.6C329.1 678.3 329.0 678.3 329.7 679.1C330.4 679.9 330.3 679.9 331 680.7C331.7 681.5 331.5 681.5 332.4 682.1C333.3 682.7 333.4 682.4 334.4 682.9C335.4 683.4 335.3 683.3 336.3 683.9C337.3 684.5 337.0 684.6 338 685.2C339.0 685.8 338.8 686.1 340 686.1C341.2 686.1 341.1 685.4 342.4 685.2C343.7 685.0 343.7 685.3 345 685.2C346.3 685.1 346.0 684.5 347.3 684.7C348.6 684.9 348.7 685.0 349.7 685.8C350.7 686.6 350.4 686.8 351.2 687.8C352.0 688.8 351.8 689.0 352.8 689.7C353.8 690.4 354.0 690.1 355.1 690.6C356.2 691.1 356.1 690.8 357.1 691.4C358.1 692.0 357.8 692.4 358.8 692.9C359.8 693.4 359.7 693.3 360.9 693.4C362.1 693.5 362.1 693.0 363.2 693.2C364.3 693.4 364.1 693.6 365.1 694.3C366.1 695.0 365.8 695.5 366.9 695.9C368.0 696.3 368.0 695.9 369.3 695.9C370.6 695.9 370.5 695.5 371.6 696C372.7 696.5 372.4 697.0 373.5 697.7C374.6 698.4 374.4 698.4 375.6 698.6C376.8 698.8 376.8 698.1 378 698.3C379.2 698.5 379.0 698.6 380 699.2C381.0 699.8 380.8 700.1 381.9 700.4C383.0 700.7 382.9 700.4 384 700.3C385.1 700.2 385.0 699.8 386.1 699.9C387.2 700.0 387.0 700.1 388 700.5C389.0 700.9 388.8 701.2 389.9 701.5C391.0 701.8 390.9 701.6 392 701.6C393.1 701.6 393.0 701.4 394.1 701.6C395.2 701.8 395.0 701.9 396 702.4C397.0 702.9 396.8 703.1 397.9 703.4C399.0 703.7 398.9 703.4 400 703.5C401.1 703.6 401.0 703.4 402.1 703.7C403.2 704.0 403.0 704.1 404 704.5C405.0 704.9 404.8 705.0 405.9 705.3C407.0 705.6 406.9 705.4 408 705.5C409.1 705.6 409.0 705.5 410.1 705.8C411.2 706.1 411.0 706.1 412 706.5C413.0 706.9 412.9 707.2 414 707.2C415.1 707.2 414.9 706.9 416 706.6C417.1 706.3 416.9 706.4 418 706.2C419.1 706.0 418.9 706.1 420 706C421.1 705.9 420.9 706.0 422 705.8C423.1 705.6 423.0 705.5 424 705.3C425.0 705.1 425.0 705.4 425.9 704.9C426.8 704.4 426.5 704.2 427.2 703.3C427.9 702.4 427.8 702.6 428.4 701.7C429.0 700.8 428.9 700.8 429.4 699.8C429.9 698.8 429.8 698.9 430.4 698C431.0 697.1 431.1 697.4 431.8 696.5C432.5 695.6 432.4 695.8 433 694.8C433.6 693.8 433.1 693.5 433.9 692.8C434.7 692.1 434.8 692.4 435.9 692.2C437.0 692.0 437.0 692.2 438.1 692C439.2 691.8 439.1 691.8 440.1 691.3C441.1 690.8 440.9 690.6 441.9 690.2C442.9 689.8 442.8 689.8 443.9 689.7C445.0 689.6 445.0 689.9 446.1 689.7C447.2 689.5 446.9 689.3 448.1 688.8C449.3 688.3 449.8 687.5 450.5 687.9C451.2 688.3 450.5 689.0 450.6 690.3C450.7 691.6 450.5 691.6 450.8 692.8C451.1 694.0 451.1 694.9 451.6 694.8C452.1 694.7 451.9 693.7 452.7 692.6C453.5 691.5 454.0 692.0 454.6 690.8C455.2 689.6 454.5 689.6 454.8 688.2C455.1 686.8 454.8 686.6 455.6 685.6C456.4 684.6 456.8 685.3 457.8 684.6C458.8 683.9 458.7 683.9 459.2 682.8C459.7 681.7 459.2 681.5 459.8 680.5C460.4 679.5 460.6 679.7 461.6 679C462.6 678.3 462.9 678.8 463.7 677.9C464.5 677.0 464.0 676.8 464.5 675.7C465.0 674.6 464.9 674.9 465.4 673.9C465.9 672.9 466.0 673.0 466.4 672C466.8 671.0 466.9 671.2 466.9 670.1C466.9 669.0 466.6 669.1 466.4 668C466.2 666.9 466.1 667.1 466.3 666C466.5 664.9 466.9 665.1 467.2 664C467.5 662.9 467.6 663.1 467.6 662C467.6 660.9 467.4 661.1 467.3 660C467.2 658.9 467.1 659.1 467.3 658C467.5 656.9 467.7 657.0 467.9 656C468.1 655.0 467.9 655.2 468.2 654.2C468.5 653.2 468.5 653.2 469 652.2C469.5 651.2 469.4 651.3 470.1 650.4C470.8 649.5 470.8 649.8 471.5 648.9C472.2 648.0 472.1 648.1 472.7 647.2C473.3 646.3 473.1 646.4 473.6 645.4C474.1 644.4 474.0 644.5 474.7 643.6C475.4 642.7 476.0 643.0 476.1 642C476.2 641.0 475.7 641.1 475.2 640C474.7 638.9 474.7 639.1 474.2 638C473.7 636.9 473.8 637.1 473.4 636C473.0 634.9 473.2 635.0 472.7 633.9C472.2 632.8 472.2 633.0 471.7 632C471.2 631.0 471.2 631.2 470.7 630.1C470.2 629.0 469.7 628.6 470 628C470.3 627.4 470.9 628.1 472 627.9C473.1 627.7 472.9 627.7 474 627.4C475.1 627.1 474.9 627.0 476 626.9C477.1 626.8 476.9 626.9 478 626.9C479.1 626.9 478.9 627.0 480 626.8C481.1 626.6 481.0 626.4 482 626.1C483.0 625.8 482.8 625.6 483.9 625.5C485.0 625.4 484.9 625.6 486 625.7C487.1 625.8 487.0 625.9 488.1 625.7C489.2 625.5 489.0 625.4 490 624.9C491.0 624.4 490.8 624.1 492 623.8C493.2 623.5 493.3 624.0 494.5 623.7C495.7 623.4 495.5 623.5 496.6 622.8C497.7 622.1 497.4 621.6 498.5 621.1C499.6 620.6 499.7 620.9 500.8 620.8C501.9 620.7 501.7 620.7 502.8 620.6C503.9 620.5 503.9 620.5 505.1 620.5C506.3 620.5 506.2 620.2 507.2 620.7C508.2 621.2 507.9 621.6 508.9 622.3C509.9 623.0 509.7 623.0 510.8 623.2C511.9 623.4 512.0 622.8 513.1 622.9C514.2 623.0 514.1 623.0 515.1 623.5C516.1 624.0 515.9 624.4 516.9 624.8C517.9 625.2 517.8 625.2 518.9 625.1C520.0 625.0 520.0 624.6 521.1 624.5C522.2 624.4 522.1 624.5 523.1 624.9C524.1 625.3 523.9 625.7 524.9 626.1C525.9 626.5 525.9 626.6 527 626.4C528.1 626.2 527.9 625.7 529 625.4C530.1 625.1 529.9 625.2 531 625.3C532.1 625.4 531.9 625.7 533 625.8C534.1 625.9 533.9 625.8 535 625.5C536.1 625.2 535.9 624.9 537 624.7C538.1 624.5 537.9 624.5 539 624.6C540.1 624.7 539.9 624.9 541 624.9C542.1 624.9 541.9 624.9 543 624.6C544.1 624.3 543.9 624.1 545 623.9C546.1 623.7 546.0 623.6 547.1 623.9C548.2 624.2 548.0 624.6 549.2 625.2C550.4 625.8 550.3 625.6 551.5 626C552.7 626.4 552.6 626.2 553.8 626.8C555.0 627.4 554.9 628.0 556.1 628.1C557.3 628.2 557.2 627.7 558.3 627.1C559.4 626.5 559.2 626.5 560.4 625.9C561.6 625.3 561.5 625.5 562.8 625C564.1 624.5 564.5 624.8 565.1 624C565.7 623.2 565.1 623.1 565.2 622C565.3 620.9 565.4 621.0 565.6 620C565.8 619.0 565.5 619.0 566.1 618.1C566.7 617.2 566.9 617.6 567.7 616.8C568.5 616.0 568.3 616.0 569.2 615.2C570.1 614.4 569.9 614.5 570.9 613.9C571.9 613.3 571.9 613.5 572.9 612.9C573.9 612.3 573.6 612.4 574.5 611.6C575.4 610.8 575.2 610.7 576.1 610C577.0 609.3 576.9 609.0 578 609C579.1 609.0 578.9 609.7 580.1 609.9C581.3 610.1 581.2 609.8 582.4 609.9C583.6 610.0 583.5 609.7 584.6 610.1C585.7 610.5 585.5 610.8 586.6 611.3C587.7 611.8 587.7 611.7 588.8 611.8C589.9 611.9 589.8 611.7 590.9 611.5C592.0 611.3 591.9 611.3 593.1 611.2C594.3 611.1 594.3 611.6 595.5 611.3C596.7 611.0 596.4 610.6 597.5 609.9C598.6 609.2 598.3 608.9 599.5 608.7C600.7 608.5 600.6 609.2 601.9 609C603.2 608.8 604.1 608.8 604.5 608C604.9 607.2 603.8 607.1 603.5 606C603.2 604.9 603.2 605.1 603.5 604C603.8 602.9 604.3 602.9 604.5 602C604.7 601.1 603.6 601.4 604.1 600.5C604.6 599.6 605.0 599.3 606.2 598.8C607.4 598.3 607.2 598.8 608.6 598.6C610.0 598.4 610.9 598.8 611.6 598.1C612.3 597.4 611.4 597.1 611.3 596C611.2 594.9 610.9 595.0 611.2 593.9C611.5 592.8 611.8 593.0 612.3 592C612.8 591.0 613.0 591.1 613.1 590.1C613.2 589.1 613.1 589.2 612.8 588.1C612.5 587.0 612.1 587.1 611.8 585.9C611.5 584.7 612.0 584.7 611.7 583.5C611.4 582.3 611.4 582.4 610.8 581.3C610.2 580.2 610.0 580.4 609.5 579.3C609.0 578.2 609.6 577.9 609 577C608.4 576.1 608.2 576.4 607.1 576C606.0 575.6 606.1 575.8 605 575.6C603.9 575.4 604.0 575.5 602.9 575.1C601.8 574.7 602.0 574.6 601 574.1C600.0 573.6 600.2 573.6 599.1 573.3C598.0 573.0 598.1 573.1 597 572.8C595.9 572.5 595.6 572.7 594.9 572C594.2 571.3 594.7 571.1 594.3 570C593.9 568.9 594.0 569.1 593.5 568C593.0 566.9 593.0 567.1 592.5 566C592.0 564.9 592.2 565.1 591.8 564C591.4 562.9 591.6 563.0 591.1 561.9C590.6 560.8 590.6 561.0 590 560C589.4 559.0 589.3 559.2 588.8 558.1C588.3 557.0 588.5 557.1 588.1 556C587.7 554.9 587.8 554.9 587.2 553.9C586.6 552.9 586.4 553.1 585.8 552.1C585.2 551.1 585.1 551.2 584.8 550.1C584.5 549.0 584.8 549.0 584.5 547.9C584.2 546.8 584.2 546.9 583.6 545.9C583.0 544.9 582.9 545.1 582.4 544.1C581.9 543.1 582.1 543.1 581.9 542C581.7 540.9 582.1 540.9 581.7 539.8C581.3 538.7 581.2 539.0 580.5 538C579.8 537.0 579.6 537.3 579.2 536.2C578.8 535.1 579.1 535.1 579.1 534C579.1 532.9 579.4 533.0 579.1 531.9C578.8 530.8 578.4 531.0 577.8 530C577.2 529.0 577.0 529.2 576.9 528.1C576.8 527.0 577.2 527.0 577.3 525.9C577.4 524.8 577.5 524.9 577.1 523.9C576.7 522.9 576.3 523.1 575.7 522.1C575.1 521.1 575.0 521.2 574.9 520.1C574.8 519.0 575.1 519.2 575.4 518.1C575.7 517.0 576.0 517.2 576 516.1C576.0 515.0 575.5 515.0 575.4 513.9C575.3 512.8 575.3 512.9 575.8 511.9C576.3 510.9 576.7 511.1 577.2 510.1C577.7 509.1 577.6 509.2 577.6 508.1C577.6 507.0 577.0 507.0 577.1 505.9C577.2 504.8 577.8 504.5 578 504"/>
<path d="M184 691 L177.5 699.5 L165 709.5 L152.5 713 L145 716.5"/>
<path d="M578 504 L576.2 503.8 L574.7 502.7 L573.2 501.5 L571.3 501.3 L569.4 501.2 L568 500 L566.6 498.7 L564.6 498.8 L562.8 498.7 L561.3 497.2 L559.8 496 L557.6 496.5 L555.8 496.2 L554.4 494.4 L552.7 493.7 L550.5 494.3 L548.8 493.5 L547.6 491.6 L545.7 491.3 L543.5 491.6 L542.1 490.3 L540.8 488.6 L538.7 488.7 L536.6 488.7 L535.5 487 L534.3 485.6 L532.3 485.5 L530.4 485 L529.3 483.4 L528 482.1 L526 482 L524.3 481.3 L523.1 479.8 L521.5 478.7 L519.5 478.3 L517.9 477.2 L516.5 475.7 L514.7 474.9 L512.9 474.3 L510.5 473.4 L508.1 473 L507.9 471.1 L508.3 469.3 L508.6 467.4 L508.5 465.6 L508.5 463.7 L508.9 461.9 L509.2 460.1 L509.6 458.1 L510.2 456.3 L511.2 454.6 L511.8 452.7 L512.1 450.7 L513 449 L511.1 448.2 L509 448.2 L506.9 447.8 L504.7 446.7 L503.4 448.1 L502.4 449.9 L500.5 450.7 L498.6 451.5 L497.6 453.5 L496.1 454.8 L493.8 455.1 L492.4 456.5 L490.4 458.6 L489.6 456.7 L488.9 454.7 L486.9 454.1 L485.1 453.3 L484.6 451.1 L483 449.2 L479.7 450.2 L479.9 448.2 L480.6 446.1 L479.3 444.4 L478.4 443.1 L477.9 441.1 L477.2 439.4 L475.3 438.7 L473.7 437.8 L473.2 435.9 L473.1 434.1 L471.8 432.7 L471 431.1 L471.2 429.1 L470.7 427.1 L468.5 426.9 L466.6 426 L465 424.5 L463 424 L461.6 422.8 L460.8 421.1 L459.8 419.5 L458.5 418.3 L457.2 416.9 L456.3 415.3 L455.3 413.8 L453.9 412.5 L454.6 410.6 L455.6 408.8 L456.3 406.9 L456.8 404.9 L457.6 403.3 L458.4 401.7 L458.8 400 L459.1 398.2 L459.9 396.7 L460.8 394.9 L459.9 393 L459.2 391.1 L459.2 388.7 L457.5 387.6 L455.4 387.1 L454 385.5 L452.5 387 L452.3 389 L452.3 391 L451 392.8 L451 394.7 L451.9 396.8 L451.1 398.7 L449.9 400.5 L450.6 402.5 L450.6 404.6 L448.7 405.9 L447.7 407.6 L448.2 409.9 L447.4 411.6 L445.5 412.9 L445.2 414.9 L445.4 417 L443.9 418.4 L442.3 419.6 L442.2 421.7 L442 423.7 L440.3 424.9 L439.1 426.4 L439.1 428.5 L438.5 430.2 L436.8 431.5 L436 433.2 L435.8 435.2 L434.9 436.8 L433.5 438.2 L432.9 439.9 L431.7 441.5 L430 442.4 L428.3 443.4 L427 444.8 L425.5 446" stroke-width="1.3"/>
<path d="M578 504C578.2 503.4 578.1 502.8 578.8 501.9C579.5 501.0 579.6 501.3 580.7 500.7C581.8 500.1 582.2 500.7 582.9 499.8C583.6 498.9 583.1 498.8 583.5 497.5C583.9 496.2 583.5 495.6 584.5 495C585.5 494.4 585.9 495.4 587.2 495.4C588.5 495.4 588.6 495.9 589.5 495C590.4 494.1 589.8 493.1 590.6 492.1C591.4 491.1 591.6 491.1 592.6 491.2C593.6 491.3 593.2 492.0 594.3 492.3C595.4 492.6 595.3 492.6 596.8 492.4C598.3 492.2 598.7 490.9 599.8 491.4C600.9 491.9 600.0 493.7 601.1 494.1C602.2 494.5 603.3 493.7 604 493C604.7 492.3 603.8 492.8 603.7 491.3C603.6 489.8 604.1 488.9 603.6 487.4C603.1 485.9 603.2 486.2 601.7 485.6C600.2 485.0 598.9 486.0 598.1 485C597.3 484.0 598.5 483.2 598.6 481.8C598.7 480.4 599.3 480.7 598.5 479.7C597.7 478.7 596.7 479.1 595.7 478.2C594.7 477.3 594.6 477.5 594.8 476.3C595.0 475.1 596.2 475.0 596.6 473.8C597.0 472.6 597.1 472.8 596.4 471.8C595.7 470.8 594.8 471.2 594 470.2C593.2 469.2 593.3 469.2 593.5 468.2C593.7 467.2 594.2 467.4 594.8 466.4C595.4 465.4 595.5 465.6 595.6 464.3C595.7 463.0 594.8 462.8 595.2 461.6C595.6 460.4 596.0 460.0 597 459.8C598.0 459.6 597.9 460.7 599 460.8C600.1 460.9 600.1 460.5 601 460.2C601.9 459.9 601.7 460.1 602.5 459.6C603.3 459.1 603.2 459.0 604.1 458.3C605.0 457.6 605.1 457.9 605.8 457.1C606.5 456.3 606.3 456.3 606.7 455.3C607.1 454.3 606.8 454.2 607.4 453.3C608.0 452.4 608.4 452.9 608.9 452C609.4 451.1 609.2 451.1 609.2 450C609.2 448.9 609.1 449.1 608.8 448C608.5 446.9 608.3 447.1 608.2 446C608.1 444.9 608.2 445.1 608.3 444C608.4 442.9 608.7 443.1 608.7 442C608.7 440.9 608.5 441.0 608.2 440C607.9 439.0 608.2 439.2 607.7 438.3C607.2 437.4 607.0 437.5 606.3 436.5C605.6 435.5 605.9 435.3 604.9 434.6C603.9 433.9 603.7 434.4 602.5 433.7C601.3 433.0 600.6 432.9 600.5 431.9C600.4 430.9 601.5 431.1 602.1 430.1C602.7 429.1 602.7 429.2 602.6 428.1C602.5 427.0 601.8 427.0 601.8 425.8C601.8 424.6 601.6 424.4 602.5 423.6C603.4 422.8 604.2 423.6 605.1 422.9C606.0 422.2 605.8 422.2 606 420.9C606.2 419.6 605.3 419.1 605.8 418.1C606.3 417.1 606.6 417.5 607.9 417C609.2 416.5 610.0 417.2 610.7 416.3C611.4 415.4 610.8 414.7 610.7 413.7C610.6 412.7 610.3 413.6 610.5 412.6C610.7 411.6 611.2 411.2 611.6 409.8C612.0 408.4 612.7 408.3 611.9 407.4C611.1 406.5 609.8 407.1 608.6 406.4C607.4 405.7 607.2 405.9 607.3 404.6C607.4 403.3 608.9 402.6 609.1 401.5C609.3 400.4 608.9 401.3 608.1 400.3C607.3 399.3 606.3 398.8 606 397.6C605.7 396.4 606.0 396.5 607.1 395.7C608.2 394.9 609.5 395.5 610.3 394.6C611.1 393.7 610.5 393.6 610 392.2C609.5 390.8 608.3 390.6 608.6 389.4C608.9 388.2 609.7 387.9 611 387.8C612.3 387.7 612.3 389.3 613.4 389.1C614.5 388.9 614.1 388.1 615 387C615.9 385.9 615.5 385.3 616.6 385.1C617.7 384.9 617.8 386.2 619.1 386.1C620.4 386.0 620.8 385.9 621.3 384.7C621.8 383.5 620.6 383.0 621 381.6C621.4 380.2 621.7 379.9 622.8 379.5C623.9 379.1 624.2 380.3 625.3 380.1C626.4 379.9 626.2 379.6 627.1 378.8C628.0 378.0 627.7 377.5 628.7 377C629.7 376.5 629.8 377.2 630.9 376.9C632.0 376.6 632.2 376.8 633 376C633.8 375.2 633.4 375.0 634 374C634.6 373.0 634.3 372.9 635.1 372.1C635.9 371.3 636.2 372.0 637.1 371.1C638.0 370.2 637.9 370.2 638.3 368.9C638.7 367.6 638.3 367.7 638.7 366.4C639.1 365.1 639.2 365.3 639.9 364.2C640.6 363.1 641.0 363.2 641.4 362.1C641.8 361.0 641.3 361.1 641.3 360C641.3 358.9 641.1 359.0 641.4 357.9C641.7 356.8 641.8 357.0 642.3 356C642.8 355.0 643.0 355.1 643.1 354.1C643.2 353.1 643.1 353.1 642.8 352.1C642.5 351.1 642.0 351.3 641.8 350.2C641.6 349.1 642.1 349.1 642 347.9C641.9 346.7 642.2 346.8 641.6 345.8C641.0 344.8 640.5 345.2 639.8 344.2C639.1 343.2 639.0 343.3 639 342.2C639.0 341.1 639.4 341.3 639.7 340.2C640.0 339.1 640.4 339.4 640.3 338.2C640.2 337.0 639.4 336.9 639.4 335.7C639.4 334.5 639.5 334.7 640.4 333.8C641.3 332.9 642.1 333.3 642.7 332.3C643.3 331.3 643.0 331.4 642.6 330.1C642.2 328.8 641.0 328.8 641.1 327.6C641.2 326.4 641.6 325.7 642.8 325.5C644.0 325.3 644.5 327.1 645.6 326.8C646.7 326.5 646.3 325.8 647 324.5C647.7 323.2 647.2 322.3 648.3 321.9C649.4 321.5 649.4 323.0 651.1 323.1C652.8 323.2 654.4 323.1 654.8 322.2C655.2 321.3 653.5 321.1 652.6 319.9C651.7 318.7 651.2 318.8 651.6 317.8C652.0 316.8 653.1 317.1 654.2 316.1C655.3 315.1 655.8 315.2 655.6 314.2C655.4 313.2 654.4 313.2 653.4 312.2C652.4 311.2 651.8 311.8 651.7 310.6C651.6 309.4 652.9 309.0 653.2 307.6C653.5 306.2 653.7 306.3 652.7 305.5C651.7 304.7 650.5 305.4 649.5 304.5C648.5 303.6 649.0 303.7 649.1 302.3C649.2 300.9 650.3 300.3 650 299.2C649.7 298.1 649.2 298.5 648 298C646.8 297.5 646.3 298.2 645.4 297.4C644.5 296.6 644.6 296.2 644.8 295C645.0 293.8 646.0 294.1 646.1 293C646.2 291.9 645.6 292.1 645.1 291C644.6 289.9 644.2 290.1 644.1 289C644.0 287.9 644.1 287.7 644.9 286.9C645.7 286.1 646.2 286.7 647 285.9C647.8 285.1 647.3 284.9 647.8 283.8C648.3 282.7 648.0 282.6 648.8 281.8C649.6 281.0 649.7 281.5 650.7 280.7C651.7 279.9 652.3 279.8 652.4 278.8C652.5 277.8 651.7 278.1 651.1 277.1C650.5 276.1 650.5 276.2 650.2 275.1C649.9 274.0 650.3 274.0 650 272.9C649.7 271.8 650.0 271.6 649.1 270.8C648.2 270.0 647.9 270.6 646.8 270C645.7 269.4 645.9 269.3 645 268.4C644.1 267.5 644.3 267.6 643.4 266.8C642.5 266.0 642.6 266.1 641.7 265.3C640.8 264.5 640.7 264.7 640.2 263.7C639.7 262.7 640.1 262.5 639.7 261.4C639.3 260.3 639.3 260.3 638.6 259.5C637.9 258.7 638.1 258.6 637.2 258.5C636.3 258.4 636.4 259.1 635.2 259.1C634.0 259.1 634.0 258.4 632.8 258.5C631.6 258.6 631.7 258.6 630.8 259.3C629.9 260.0 630.4 260.8 629.3 261.3C628.2 261.8 626.9 261.8 626.5 261.1C626.1 260.4 627.9 259.7 627.7 258.5C627.5 257.3 626.9 257.5 625.9 256.5C624.9 255.5 624.4 256.0 624.1 254.6C623.8 253.2 625.1 252.1 624.7 251.2C624.3 250.3 623.5 250.5 622.6 251.4C621.7 252.3 622.4 253.4 621.4 254.4C620.4 255.4 619.8 255.8 618.7 255.2C617.6 254.6 618.2 253.1 617.3 252.2C616.4 251.3 616.6 251.4 615.3 251.9C614.0 252.4 613.8 253.7 612.6 254C611.4 254.3 611.6 254.1 610.7 253C609.8 251.9 610.3 250.6 609.4 249.9C608.5 249.2 608.5 249.6 607.2 250.2C605.9 250.8 605.8 252.1 604.6 252.2C603.4 252.3 603.5 251.9 602.7 250.6C601.9 249.3 602.7 248.2 601.7 247.5C600.7 246.8 600.5 247.7 599.1 248.1C597.7 248.5 597.4 249.5 596.3 249C595.2 248.5 595.8 247.5 595.1 246.3C594.4 245.1 594.7 244.6 593.6 244.4C592.5 244.2 592.3 245.4 590.8 245.4C589.3 245.4 588.3 245.3 587.9 244.3C587.5 243.3 588.9 243.0 589.2 241.8C589.5 240.6 589.5 240.8 588.9 239.8C588.3 238.8 587.2 239.1 586.8 238.2C586.4 237.3 588.0 237.0 587.4 236.6C586.8 236.2 585.7 236.2 584.5 236.8C583.3 237.4 584.0 238.7 583 239C582.0 239.3 581.8 238.9 580.9 238C580.0 237.1 580.5 236.8 579.8 235.8C579.1 234.8 579.3 234.9 578.3 234.2C577.3 233.5 577.1 234.0 576.1 233.3C575.1 232.6 575.3 232.7 574.5 231.7C573.7 230.7 573.9 230.1 573 229.6C572.1 229.1 572.1 229.7 571 230C569.9 230.3 570.1 230.5 569 230.7C567.9 230.9 568.1 230.9 567 230.8C565.9 230.7 566.0 230.4 565 230.4C564.0 230.4 564.0 231.2 563.1 230.9C562.2 230.6 562.2 230.2 561.6 229.2C561.0 228.2 561.3 228.2 561 227C560.7 225.8 561.1 225.8 560.5 224.8C559.9 223.8 559.9 223.9 558.9 223.2C557.9 222.5 557.7 223.1 556.7 222.3C555.7 221.5 556.2 221.0 555.3 220.1C554.4 219.2 554.5 219.4 553.2 219.1C551.9 218.8 551.6 219.6 550.5 219C549.4 218.4 549.6 218.2 549.1 217C548.6 215.8 549.6 215.4 548.8 214.4C548.0 213.4 547.1 214.2 546 213.4C544.9 212.6 544.8 212.9 544.6 211.5C544.4 210.1 545.8 209.6 545.4 208.3C545.0 207.0 544.6 207.1 543.2 206.8C541.8 206.5 541.3 207.8 540.3 207.2C539.3 206.6 540.0 205.9 539.5 204.5C539.0 203.1 539.7 202.4 538.6 201.9C537.5 201.4 537.1 202.8 535.5 202.7C533.9 202.6 532.9 202.8 532.5 201.7C532.1 200.6 533.8 199.9 534 198.5C534.2 197.1 534.4 197.1 533.2 196.4C532.0 195.7 530.6 196.5 529.6 195.7C528.6 194.9 529.1 194.7 529.4 193.3C529.7 191.9 531.1 191.5 530.9 190.3C530.7 189.1 529.9 189.6 528.6 188.9C527.3 188.2 526.4 188.8 526 187.7C525.6 186.6 526.6 186.1 527 184.9C527.4 183.7 527.9 184.3 527.6 183.2C527.3 182.1 526.3 182.1 525.7 180.8C525.1 179.5 524.7 179.6 525.2 178.5C525.7 177.4 526.9 177.7 527.6 176.6C528.3 175.5 528.2 175.6 527.9 174.4C527.6 173.2 526.5 173.3 526.3 172.1C526.1 170.9 526.3 170.8 527 169.8C527.7 168.8 528.5 169.4 529.1 168.5C529.7 167.6 529.4 167.5 529.4 166.4C529.4 165.3 528.8 165.3 529 164.2C529.2 163.1 529.4 163.3 530.1 162.4C530.8 161.5 531.2 161.8 531.8 160.9C532.4 160.0 532.1 160.0 532.2 159C532.3 158.0 532.1 158.1 532.2 157C532.3 155.9 532.4 156.0 532.7 154.9C533.0 153.8 533.3 154.1 533.5 153C533.7 151.9 533.5 152.0 533.4 150.9C533.3 149.8 533.1 149.9 533.1 148.8C533.1 147.7 533.2 147.9 533.5 146.8C533.8 145.7 534.1 145.9 534.2 144.8C534.3 143.7 534.1 143.3 534 142.7" stroke-width="1.3"/>
<path d="M534 142.7C531.2 142.2 530.5 143.1 523.6 141C516.7 138.9 516.4 138.5 508 135C499.6 131.5 498.2 129.3 492 128C485.8 126.7 490.7 126.0 484.6 130C478.5 134.0 472.5 139.0 469 143C465.5 147.0 468.5 143.4 471.6 145C474.7 146.6 477.2 144.5 480.7 149C484.2 153.5 484.3 155.1 484.6 162C484.9 168.9 484.1 168.7 482 175C479.9 181.3 481.3 181.7 476.8 185.6C472.3 189.5 467.1 186.0 465 189.5C462.9 193.0 464.5 195.1 469 198.6C473.5 202.1 478.2 199.7 482 202.5C485.8 205.3 484.7 206.6 483.3 209C481.9 211.4 478.2 209.5 476.8 211.6C475.4 213.7 480.1 214.7 478 216.8C475.9 218.9 470.3 216.7 469 219.4C467.7 222.1 469.9 223.6 473 227C476.1 230.4 479.4 229.6 480.7 232C482.0 234.4 477.4 234.9 478 236C478.6 237.1 481.7 236.0 483 236"/>
<path d="M283 249.5 L277 251 L254 261 L253 256 L249 257.5 L248 264 L238 270 L237 281 L225.5 283.75 L221.75 291.25 L200.5 310 L199.25 313.75 L208 320 L212 326 L225.5 327.5 L238 330 L239 335 L253 337.5 L283 337.5 L287 346 L290.5 351 L318 352"/>
<path d="M305.5 244 L298 247.5 L283 249.5 L284 259 L284 270 L283 285 L286 299 L300 307 L304 313 L302 329 L301 333 L338 333 L340 325 L348 323 L350 319 L358 307 L354 297 L353 291 L368 291 L366 277 L361 272 L352 274 L352 278 L338 280 L324 276 L312 267 L304 257 L299 248"/>
<path d="M283 337.5 L283 339 L289 353"/>
<path d="M301 333 L318 334 L340.5 330 L343 322.5 L348 323"/>
<path d="M366 277 L372 278 L376 285 L384 285 L400 294 L398 312 L386 315 L384 321 L366 319 L350 336 L348 324"/>
<path d="M361 272 L358 265"/>
<path d="M400 294 L418 304 L425 306 L426 292 L438 288 L440 292 L444 292 L445 289 L456 287"/>
<path d="M455.5 245 L455.6 246.5 L455.6 248 L455.5 249.6 L455.5 251.1 L455.6 252.6 L455.7 254.1 L455.6 255.6 L455.6 257.1 L455.7 258.7 L455.7 260.2 L455.6 261.7 L455.6 263.2 L455.8 264.7 L455.8 266.2 L455.7 267.8 L455.7 269.3 L455.9 270.8 L455.9 272.3 L455.7 273.8 L455.7 275.4 L456 276.9 L456 278.4 L455.7 279.9 L455.8 281.4 L456.1 282.9 L456.1 284.5 L455.8 286 L455.8 287.5 L456.4 289 L456.4 290.6 L456.1 292.2 L456.4 293.8 L457 295.3 L456.8 296.9 L456.5 298.5 L457 300 L457.1 301.6 L456.4 303 L455.7 304.4 L455.8 306 L455.9 307.6 L455.1 309 L454.5 310.4 L454.7 312 L454.7 313.6 L453.9 315 L453.2 316.5 L453.2 318.2 L452.8 319.8 L451.7 321.2 L451.3 322.8 L451.3 324.5 L450.5 326 L449.1 327 L448.3 328.5 L447.3 329.9 L445.9 330.9 L445 332.2 L444.5 333.7 L443.7 335 L442.7 336.1 L441.9 337.5 L442 339 L441.8 340.5 L441.4 342 L441.2 343.5 L441.3 345 L441.1 346.5 L440.8 348 L440.6 349.5 L440.5 351.1 L438.9 351.2 L437.3 351.2 L435.7 351.4 L434.1 351.6 L432.5 351.7 L430.9 351.7 L429.4 351.9 L427.8 352.2 L426.2 352.2 L424.6 352.3 L423 352.5 L421.9 353.9 L420.5 355 L419.4 356.4 L418.3 357.8 L417 359 L416.9 360.5 L417.3 362 L417.5 363.5 L417.4 365 L417.3 366.5 L417.7 368 L418 369.5 L417.8 371 L417.7 372.6 L418.8 373.9 L419.7 375.2 L420 376.9 L420.6 378.3 L421.8 379.5 L422.5 381 L422.7 382.6 L423.5 384 L424.6 385.2 L425.1 386.7 L425.3 388.3 L426.2 389.6 L427.4 391.1 L426.8 392.5 L426 393.9 L426.1 395.5 L426.2 397.1 L425.5 398.5 L424.8 399.9 L424.9 401.5 L425 403.1 L424.3 404.5 L423.7 405.9 L423.8 407.6 L423.7 409.2 L423 410.7 L422.6 412.3 L422.7 413.9 L422.4 415.5 L421.8 417 L421.5 418.6 L421.6 420.3 L421.1 421.8 L420.6 423.4 L420.5 425 L419 427.5"/>
<path d="M457 299C457.5 299.0 457.9 299.2 459 299.1C460.1 299.0 459.9 298.6 461 298.5C462.1 298.4 461.9 298.7 463 298.9C464.1 299.1 463.9 299.3 465 299.4C466.1 299.5 465.9 299.3 467 299.1C468.1 298.9 467.9 298.7 469 298.7C470.1 298.7 469.9 298.8 471 299C472.1 299.2 471.9 299.3 473 299.3C474.1 299.3 474.0 299.1 475 299C476.0 298.9 476.0 299.7 476.8 298.9C477.6 298.1 477.0 296.9 478 296.1C479.0 295.3 479.7 295.4 480.4 296C481.1 296.6 480.5 297.1 480.5 298.3C480.5 299.5 480.4 299.3 480.3 300.5C480.2 301.7 480.1 301.5 480 302.7C479.9 303.9 480.2 303.7 480.1 305C480.0 306.3 480.0 306.2 479.8 307.5C479.6 308.8 479.4 308.7 479.2 310C479.0 311.3 478.4 311.6 479 312.5C479.6 313.4 480.2 312.8 481.4 313.5C482.6 314.2 482.4 314.3 483.6 315C484.8 315.7 484.8 315.3 486 316C487.2 316.7 487.2 316.7 488.2 317.8C489.2 318.9 489.0 318.9 489.6 320.1C490.2 321.3 489.9 321.1 490.3 322.3C490.7 323.5 491.1 323.3 491.2 324.6C491.3 325.9 490.7 325.9 490.8 327.1C490.9 328.3 490.9 328.2 491.6 329.2C492.3 330.2 492.7 329.8 493.4 330.8C494.1 331.8 493.6 331.5 494.2 332.8C494.8 334.1 494.4 334.4 495.5 335.5C496.6 336.6 497.6 336.0 498.5 336.9C499.4 337.8 499.0 337.8 498.8 338.9C498.6 340.0 498.1 340.0 497.9 341.1C497.7 342.2 497.8 342.0 498.2 343.1C498.6 344.2 499.7 344.1 499.5 345.3C499.3 346.5 498.5 346.4 497.5 347.5C496.5 348.6 496.5 348.5 495.7 349.5C494.9 350.5 495.3 350.6 494.5 351.4C493.7 352.2 493.9 352.2 492.8 352.5C491.7 352.8 491.6 352.3 490.5 352.6C489.4 352.9 489.2 352.7 488.6 353.7C488.0 354.7 488.8 355.1 488.2 356.3C487.6 357.5 487.4 357.1 486.4 358.1C485.4 359.1 484.7 359.1 484.4 360.1C484.1 361.1 484.9 361.0 485.4 362C485.9 363.0 486.1 362.8 486.2 363.9C486.3 365.0 485.5 365.0 485.9 366.1C486.3 367.2 486.7 367.1 487.8 367.9C488.9 368.7 489.1 368.3 490.2 369.1C491.3 369.9 491.0 370.1 492 371C493.0 371.9 492.7 371.9 493.8 372.6C494.9 373.3 495.0 372.9 496.1 373.5C497.2 374.1 497.5 374.1 498.1 375C498.7 375.9 498.1 375.9 498.3 377C498.5 378.1 498.5 377.9 498.9 379C499.3 380.1 499.4 379.9 499.7 381C500.0 382.1 500.1 381.9 500.1 383C500.1 384.1 499.8 384.0 499.8 385.2C499.8 386.4 499.9 386.3 500 387.5C500.1 388.7 500.2 388.6 500.2 389.8C500.2 391.0 500.2 390.9 499.9 392C499.6 393.1 499.4 392.8 498.9 393.9C498.4 395.0 498.8 395.2 498.1 396.1C497.4 397.0 497.4 396.8 496.4 397.4C495.4 398.0 495.4 397.8 494.5 398.5C493.6 399.2 493.7 399.1 492.9 399.9C492.1 400.7 492.4 400.9 491.5 401.6C490.6 402.3 490.7 402.1 489.7 402.7C488.7 403.3 488.4 402.9 487.7 403.8C487.0 404.7 487.3 404.8 487 406C486.7 407.2 487.0 407.2 486.4 408.2C485.8 409.2 485.5 408.9 484.8 409.9C484.1 410.9 484.0 410.7 483.6 411.8C483.2 412.9 483.7 413.0 483.4 414.2C483.1 415.4 483.1 415.3 482.3 416.2C481.5 417.1 481.1 416.7 480.5 417.7C479.9 418.7 480.4 418.7 479.9 419.8C479.4 420.9 479.6 421.0 478.7 421.7C477.8 422.4 477.7 422.1 476.6 422.4C475.5 422.7 475.3 422.2 474.4 422.8C473.5 423.4 473.8 423.5 473.1 424.5C472.4 425.5 472.8 425.8 471.9 426.4C471.0 427.0 470.6 426.5 469.7 426.8C468.8 427.1 469.4 427.4 468.5 427.4C467.6 427.4 467.3 427.2 466.2 426.8C465.1 426.4 465.1 426.6 464.2 425.9C463.3 425.2 463.3 424.5 463 424" stroke-width="1.3"/>
<path d="M253 337.5 L253.8 339 L254 340.6 L254.2 342.3 L255.1 343.7 L255.8 345.2 L255.8 346.9 L256.2 348.5 L257.3 349.9 L257.6 351.4 L257.3 353.1 L257.8 354.6 L258.8 355.9 L259 357.5 L258.6 359.1 L259.3 360.5 L260.3 361.9 L260.3 363.5 L259.9 364.9 L260.1 366.5 L260.6 368.1 L259.8 369.5 L258.9 370.9 L259.2 372.5 L259.5 373.7 L259.8 375.4 L260.1 377 L261.6 378.1 L262.7 379.2 L262.9 381 L263.5 382.5 L265 383.5 L265.9 384.9 L265.4 386.7 L265.8 388.4 L266.7 389.9 L266.5 391.7 L266.4 393.4 L267.1 395.1 L266.6 396.6 L265.4 397.8 L264.6 399.2 L264.3 400.8 L263.6 402.2 L262.5 403.5 L261.9 405 L261.5 406.6 L260.7 408 L259.8 409.4 L259.3 411 L258.8 412.6 L258 414 L258.6 415.5 L259.5 416.8 L260.2 418.2 L260.8 419.8 L261.5 421.2 L262.4 422.5 L263 424"/>
<path d="M318 334 L318.4 335.6 L318.3 337.1 L318.2 338.7 L318.6 340.3 L319 341.8 L318.8 343.4 L318.7 345.1 L319.7 346.5 L320.3 348 L320.2 349.8 L320.8 351.3 L321.9 352.7 L322.1 354.3 L322.1 356.1 L323 357.5 L323.9 358.8 L324 360.4 L324 362 L325.1 363.3 L326 364.6 L325.9 366.3 L326 367.9 L327.1 369.1 L327.9 370.5 L327.8 372.1 L328.1 373.7 L329.2 374.9 L330.1 376.2 L330.2 377.9 L330.9 379.3 L332.1 380.4 L332.9 381.8 L333.1 383.5 L333.9 384.8 L335.1 386 L335.6 387.4 L335.9 389.1 L336.9 390.5 L337.9 391.9 L338.3 393.5 L338.8 395 L338.8 396.7 L338.5 398.4 L337.8 400 L337.6 401.7 L337.5 403.4 L337 405 L336.7 406.6 L336.7 408.2 L336.7 409.8 L336.3 411.4 L336.2 413 L336.2 414.6 L336 416.2 L335.7 417.8 L335.6 419.4 L335.5 421"/>
<path d="M384 321 L385.1 322.3 L385.6 324.1 L386.2 325.7 L387.6 326.9 L388.4 328.4 L388.5 330.1 L389.1 331.5 L390.1 332.9 L390.1 334.5 L389.6 336.1 L390.4 337.5 L391.4 338.9 L391.2 340.5 L390.8 342.1 L391.6 343.5 L392.6 345.2 L391.5 346.5 L390.3 347.7 L390.4 349.4 L390.5 351.1 L389.1 352.2 L388.1 353.5 L388.4 355.3 L388.3 356.9 L386.8 358 L386 359.4 L386.4 361.2 L386 362.6 L384.7 363.8 L384.2 365.2 L384.5 366.9 L384.2 368.4 L383 369.6 L382.5 371 L382.7 372.6 L382.4 373.9 L382.2 375.6 L382.6 377.1 L383.6 378.4 L384 379.9 L383.9 381.6 L384.5 383 L385.3 384.4 L385.6 386 L385.8 387.7 L386.5 389.3 L387.1 391.2 L385.5 391.7 L384.1 392.5 L382.7 393.5 L381.3 394.3 L379.7 394.9 L378.4 395.8 L377 396.8 L375.5 397.5 L375.5 399 L375.8 400.5 L376.1 402 L376.1 403.5 L376.1 405 L376.4 406.5 L376.8 408 L376.7 409.5 L376.6 411 L377 412.5 L378 411.1 L379.4 410.3 L380.3 409.2 L381.6 410.1 L382.5 411.3 L382.9 412.9 L383.7 414.2 L385.3 415 L386.2 416.3 L386.7 418 L388 419.2 L389.8 418.8 L391.3 419.7 L392.6 420.4 L394.4 421 L395.8 422 L396.3 423.9 L397.6 425 L399.3 425.4 L400.6 426.5 L401.7 428 L403.5 427.9 L405.3 428 L406.4 429.6 L408.2 430.6 L409.4 429.2 L410.9 428.7 L412.6 429.2 L414.1 428.8 L415.4 427.5 L416.7 427.3 L418.5 426 L419 424"/>
<path d="M339 395 L357 394 L353 405 L348 415 L348 422.5 L355.5 426 L360.5 422.5 L373 420 L377 412.5"/>
<path d="M302 424.5 L302.6 426.1 L302 427.8 L302.6 429.4 L303.6 430.9 L303.3 432.6 L302.9 434.3 L303.9 435.9 L304.5 437.4 L304.2 439 L304.4 440.5 L305.5 441.8 L306.1 443.2 L305.9 444.9 L306.1 446.4 L307.1 447.7 L307.7 449.1 L307.6 450.7 L307.9 452.2 L308.8 453.5 L309.2 454.9 L309.2 456.6 L309.6 458.2 L310.3 459.6 L310.6 461.2 L310.7 462.9 L311.2 464.4 L311.8 465.9 L312 467.5 L312.3 469 L312.8 470.5 L313.3 472 L313.6 473.5 L314 475.1 L315.6 475 L317.1 475 L318.7 475.2 L320.2 475.3 L321.8 475.2 L323.4 475.2 L324.9 475.5 L326.5 475.6 L328 475.4 L329.6 475.5 L331.1 475.8 L332.7 475.8 L334.3 475.6 L335.8 475.7 L337.4 476.1 L338.9 476 L340.6 475.7 L342 476.5 L343.2 477.5 L344.8 477.8 L346.4 477.9 L347.7 478.8 L348.9 479.9 L350.5 480 L352.1 479.5 L353.6 480.1 L355.2 480.5 L356.8 479.9 L358.3 479.5 L359.9 480.2 L361.4 480.5 L363.3 479.9 L364 481.3 L363.6 483.1 L364.1 484.6 L365.4 485.9 L365.7 487.3 L366.3 489 L367.7 490 L368.6 490.6 L370 489.8 L371.4 488.9 L372 487.3 L372.6 485.8 L374.1 485 L375.4 484 L375.8 482.3 L376.7 481 L378.2 480.1 L378.7 478 L378.9 475.6 L381.1 475.7 L382.9 475 L383.4 476.5 L383.3 478.1 L383.2 479.7 L383.6 481.3 L383.9 482.8 L383.8 484.4 L384 486.2 L385.5 486.1 L387 486.1 L388.5 486.5 L390 486.7 L391.5 486.6 L393 486.7 L394.5 487 L396 487.2 L397.5 487.2 L399 487.3 L400.5 487.5 L401.3 486.1 L401.9 484.6 L402.5 483.2 L403.5 481.8 L404.2 480.4 L404.6 478.9 L405.4 477.4 L406.6 476.4 L407.4 475 L408.1 473.6 L409.2 472.5 L410.4 471.4 L411.1 470 L411.8 468.5 L413 467.5 L414.4 466.5 L415 465 L415.9 463.6 L417.5 462.8 L418.6 461.7 L419.1 460 L420.2 458.9 L421.5 457.7 L421.9 456.2 L421.7 454.5 L422.5 453.1 L423.8 452 L424 450.4 L423.8 448.7 L424.8 447.4 L425.4 445.4 L424 446.1 L422.6 446.9 L421 446.6 L419.4 446.1 L418 446.8 L416.6 447.6 L415 447.2 L413.4 446.8 L412 447.5 L411.9 445.9 L412.8 444.5 L413.7 443.1 L413.5 441.5 L413.6 439.8 L414.8 438.5 L415.6 437 L415.6 435.2 L416.3 433.7 L417.4 432.3 L417.8 430.6 L418.1 429 L419 427.5"/>
<path d="M315.5 546 L316.6 547.1 L317.1 548.6 L317.9 549.9 L318.9 550.8 L320.3 549.9 L322 549.6 L323.4 548.6 L324.5 547.2 L326.1 546.7 L327.8 546.2 L328.9 545 L328.4 543.5 L328.7 542 L328.8 540.5 L328.1 539 L327.7 537.4 L328.7 536.1 L329.5 534.7 L329.7 533.1 L330.3 531.6 L331.3 530.4 L331.9 529 L332.2 527.4 L333 525.8 L334.5 525.8 L336 525.3 L337.5 524.6 L339 524.3 L340.4 524.1 L341.6 525.2 L342.9 526.2 L344 527.5 L344.4 529.1 L345 530.6 L345.6 532.2 L345.9 533.8 L346.4 535.3 L347.1 536.9 L347.5 538.4 L347.9 540 L347 541.5 L346.1 543 L345 544.5 L344 546.1 L345.6 546.2 L347.2 546.6 L348.8 547 L350.4 547.2 L351.9 547.5 L352.4 545.8 L352.8 544.2 L353.1 542.4 L354 543.7 L354.6 545.1 L355.4 546.3 L356.4 547.4 L357.3 548.6 L358.1 550 L358.4 548.5 L358.2 547 L358.4 545.5 L359 544 L358.9 542.7 L360.6 542.9 L362.1 543.5 L363.4 544.5 L364.9 545 L366.6 545.1 L368.1 546 L368.1 547.6 L368.9 549 L369.7 550.4 L369.8 552 L369.9 553.6 L370.8 555 L371.5 556.4 L371.5 558 L371.8 559.6 L372.7 560.9 L373.3 562.5 L372.7 564.1 L372.6 565.6 L373.1 567.2 L373 568.8 L372.4 570.3 L372.5 571.9 L372.8 573.4 L372.6 575 L372.2 576.6 L372.3 578.1 L372.5 579.7 L372.3 581.3 L372 582.8 L372.1 584.4 L372.2 585.9 L372 587.5 L372.2 589 L372.7 590.5 L373.1 592 L373.3 593.5 L373.6 595 L374 596.5 L374.4 598 L374.6 599.5 L374.9 601 L375.4 602.5 L375.7 604 L376 605.5 L376.3 607 L376.7 608.5 L377.1 610 L377.2 611.5 L377.4 613 L377.8 614.5 L378 616 L378.1 617.5 L378.3 619 L378.7 620.5 L379 622 L379 623.5 L379.2 625 L379.7 626.5 L379.9 628 L379.9 629.5 L380.1 631 L380.6 632.7 L378.8 633.1 L377 633.2 L375.4 634.1 L373.8 634.8 L372.2 634.8 L370.8 633.7 L369.2 632.8 L368.1 631.4 L367 629.9 L365.3 629.1 L364.5 627.9 L364.2 626.3 L363.5 624.9 L362.3 623.9 L361.5 622.7 L361.2 621.1 L360.5 619.7 L359.3 618.7 L358.5 617.5 L357.8 615.9 L357.2 617.4 L356.9 619.3 L355.3 618.6 L353.9 617.5 L352.2 617.2 L350.5 616.9 L348.9 615.9 L347.4 616.6 L346.3 617.8 L344.8 618.7 L343.2 619.2 L341.9 620.1 L340.4 621.2 L339.2 620.2 L338.1 619.1 L336.8 618.3 L335.4 617.4 L336.5 616.4 L337.7 615.5 L338.7 614.3 L339.7 613.1 L340.8 612.1 L342 611.1 L343 610 L342.9 608.3 L343 606.7 L343.1 605 L343 603.3 L342.9 601.7 L343.1 600 L342.3 598.6 L341.5 597.2 L340.8 595.7 L340.2 594.2 L339.4 592.9 L338.6 591.5 L338 590 L337.3 588.5 L336.3 587.2 L335.4 585.9 L334.7 584.4 L334 583 L332.9 581.7 L332.1 580.3 L331.5 578.8 L330.6 577.4 L329.4 576.4 L328.6 575 L327.9 573.5 L326.7 572.4 L325.5 571.3 L324.9 569.8 L324.1 568.4 L322.8 567.4 L321.9 566.3 L320.5 565.1 L318.9 564.4 L317.1 564.2 L315.6 563.2 L314.4 562.4 L313.5 561 L312.8 559.6 L312.9 558 L312.8 556.4 L311.8 554.9 L312.3 553.4 L313.4 552.1 L314 550.6 L314.1 548.9 L314.7 547.4 L315.5 546"/>
<path d="M393.5 257.5L395.5 252M395.5 256.5L397.5 250.5M397.5 255.5L399 249M399.3 254.5L400.3 247.5M401 254V248M402.5 254V248.2M404 254.3V248.6M405.5 254.6V249M407 255V249.5M408.3 256V250M347.5 255.5V247.5M349 255.5V247.5M352.5 256V248M353.8 256V249" stroke-width="1.1"/>
</g>
<g stroke="#000" stroke-width="1.1">
<ellipse cx="160" cy="49.3" rx="5.5" ry="1.3" fill="#000" transform="rotate(12 160 49.3)"/>
<ellipse cx="171" cy="51.8" rx="5" ry="1.2" fill="#000" transform="rotate(8 171 51.8)"/>
<ellipse cx="183" cy="54.5" rx="5.5" ry="1.0" fill="#000" transform="rotate(5 183 54.5)"/>
<ellipse cx="218.5" cy="93.5" rx="1.0" ry="1.0" fill="#000" transform="rotate(0 218.5 93.5)"/>
<ellipse cx="228" cy="95" rx="1.0" ry="1.2" fill="#000" transform="rotate(0 228 95)"/>
<ellipse cx="231" cy="91" rx="1.4" ry="1.6" fill="#000" transform="rotate(0 231 91)"/>
<ellipse cx="236.5" cy="91.2" rx="1.2" ry="1.2" fill="#000" transform="rotate(0 236.5 91.2)"/>
<ellipse cx="243" cy="89.8" rx="5" ry="1.5" fill="#000" transform="rotate(-22 243 89.8)"/>
<ellipse cx="219.5" cy="136.5" rx="1.6" ry="2.2" fill="#000" transform="rotate(-30 219.5 136.5)"/>
<ellipse cx="223" cy="141" rx="1.2" ry="1.2" fill="#000" transform="rotate(0 223 141)"/>
<ellipse cx="226" cy="144" rx="1.4" ry="1.4" fill="#000" transform="rotate(0 226 144)"/>
<ellipse cx="247.8" cy="148" rx="1.6" ry="1.6" fill="#000" transform="rotate(0 247.8 148)"/>
<ellipse cx="180.5" cy="156.5" rx="1.4" ry="2.2" fill="#000" transform="rotate(10 180.5 156.5)"/>
<ellipse cx="285.5" cy="167.5" rx="2.0" ry="2.8" fill="#fff" transform="rotate(-25 285.5 167.5)"/>
<ellipse cx="294.5" cy="170" rx="2.8" ry="1.9" fill="#fff" transform="rotate(20 294.5 170)"/>
<ellipse cx="378.8" cy="157" rx="2.1" ry="2.4" fill="#fff" transform="rotate(-20 378.8 157)"/>
<ellipse cx="380.5" cy="175" rx="0.9" ry="0.9" fill="#000" transform="rotate(0 380.5 175)"/>
<ellipse cx="340" cy="187.5" rx="1.3" ry="1.3" fill="#000" transform="rotate(0 340 187.5)"/>
<ellipse cx="371" cy="189.3" rx="0.8" ry="0.8" fill="#000" transform="rotate(0 371 189.3)"/>
<ellipse cx="250.8" cy="188.6" rx="1.7" ry="1.5" fill="#000" transform="rotate(0 250.8 188.6)"/>
<ellipse cx="259.3" cy="189.2" rx="0.7" ry="0.7" fill="#000" transform="rotate(0 259.3 189.2)"/>
<ellipse cx="312" cy="207.3" rx="1.3" ry="1.3" fill="#000" transform="rotate(0 312 207.3)"/>
<ellipse cx="319.3" cy="209" rx="1.2" ry="1.2" fill="#000" transform="rotate(0 319.3 209)"/>
<ellipse cx="318" cy="202" rx="0.7" ry="0.7" fill="#000" transform="rotate(0 318 202)"/>
<ellipse cx="312.5" cy="211.3" rx="0.7" ry="0.7" fill="#000" transform="rotate(0 312.5 211.3)"/>
<ellipse cx="224.5" cy="142.6" rx="1.6" ry="1.2" fill="#fff" transform="rotate(30 224.5 142.6)"/>
<ellipse cx="199.6" cy="62.6" rx="0.8" ry="0.8" fill="#000" transform="rotate(0 199.6 62.6)"/>
<ellipse cx="202.5" cy="65" rx="2.2" ry="0.7" fill="#000" transform="rotate(25 202.5 65)"/>
<ellipse cx="248.3" cy="147.6" rx="1.9" ry="1.3" fill="#000" transform="rotate(20 248.3 147.6)"/>
<path d="M34 58.2H40.5Q43.3 58.6 43.2 61Q43.2 63.4 40.5 63.8H34" fill="none" stroke-width="1.1"/>
</g>
</g>
<rect x="34" y="43.5" width="648" height="673.3" fill="none" stroke="#000" stroke-width="2.1"/>
<path d="M31 185.4H33M31 516.2H33M168 717.5V719.8M474 717.5V719.8M697 212.7H699M803 463V465.2" stroke="#333" stroke-width="0.9" fill="none"/>
<g class="lab" text-anchor="middle">
<text x="231.5" y="73">Kab. Kepulauan Seribu</text>
<text x="412.2" y="276.5">Jakarta Utara</text>
<text x="313.8" y="291.6">Jakarta</text>
<text x="317" y="307.2">Barat</text>
<text x="372.2" y="301.3">Jakarta</text>
<text x="374.8" y="317.2">Pusat</text>
<text x="255.4" y="313.2">Tangerang</text>
<text x="158" y="328.3">Kab.</text>
<text x="157.2" y="344">Tangerang</text>
<text x="348" y="362.6">Jakarta</text>
<text x="349.4" y="378.5">Selatan</text>
<text x="409.2" y="378.2">Jakarta</text>
<text x="410.8" y="394.2">Timur</text>
<text x="297" y="387.2">Tangerang</text>
<text x="296" y="402.2">Selatan</text>
<text x="456.8" y="366.4">Bekasi</text>
<text x="560.5" y="341.8">Kab. Bekasi</text>
<text x="358" y="456.8">Depok</text>
<text x="273.5" y="513.7">Kab. Bogor</text>
<text x="350.3" y="576.3">Bogor</text>
<text x="886" y="359">Kab. Kepulauan Seribu</text>
</g>
<g class="ax" text-anchor="end"><text x="30.6" y="187.2">6S</text><text x="30.6" y="518">6.5S</text><text x="697.2" y="214.6">5.5S</text></g>
<g class="ax" text-anchor="middle"><text x="168.5" y="724">106.5E</text><text x="474.5" y="724">107E</text><text x="803.5" y="469.5">106.5E</text></g>
<g clip-path="url(#ci)">
<g stroke="#adadad" fill="none"><path d="M707.3 212.7H991" stroke-width="1.1" stroke-dasharray="2.4 5.8"/><path d="M803 45V462" stroke-width="1.3" stroke-dasharray="1.6 5.78"/></g>
<g fill="#000" stroke="#000" stroke-width="0.4">
<ellipse cx="784.7" cy="62.2" rx="1.5" ry="1.5"/>
<ellipse cx="790" cy="168.7" rx="0.9" ry="0.9"/>
<ellipse cx="799.4" cy="171" rx="1.6" ry="1.5"/>
<ellipse cx="753" cy="201.4" rx="1.5" ry="1.3"/>
<ellipse cx="774" cy="194.4" rx="0.8" ry="0.8"/>
<ellipse cx="814" cy="200.9" rx="1.0" ry="1.0"/>
<ellipse cx="823.4" cy="195" rx="1.3" ry="1.2"/>
<ellipse cx="830.4" cy="192" rx="1.8" ry="1.3"/>
<ellipse cx="835.6" cy="188.6" rx="1.6" ry="1.4"/>
<ellipse cx="821" cy="212.6" rx="1.2" ry="1.0"/>
<ellipse cx="827.5" cy="213" rx="2.3" ry="1.3"/>
<ellipse cx="839" cy="208.5" rx="1.7" ry="1.3"/>
<ellipse cx="814" cy="218.4" rx="1.3" ry="1.2"/>
<ellipse cx="819" cy="218.4" rx="1.6" ry="1.3"/>
<ellipse cx="815" cy="229" rx="1.8" ry="1.3"/>
<ellipse cx="822" cy="227" rx="1.5" ry="1.2"/>
<ellipse cx="839.7" cy="232.5" rx="1.0" ry="1.0"/>
<ellipse cx="813.4" cy="237.7" rx="1.6" ry="1.3"/>
<ellipse cx="819" cy="239.5" rx="1.3" ry="1.2"/>
<ellipse cx="824" cy="239.5" rx="1.6" ry="1.4"/>
<ellipse cx="815.7" cy="246.5" rx="1.1" ry="1.1"/>
<ellipse cx="824.5" cy="249.4" rx="2.0" ry="1.6"/>
<ellipse cx="829" cy="247.7" rx="1.2" ry="1.2"/>
<ellipse cx="833" cy="252.4" rx="1.4" ry="1.3"/>
<ellipse cx="846.8" cy="250.6" rx="1.1" ry="1.4"/>
<ellipse cx="845.6" cy="255" rx="1.3" ry="1.3"/>
<ellipse cx="824.5" cy="258" rx="1.6" ry="1.3"/>
<ellipse cx="829" cy="259.4" rx="1.6" ry="1.2"/>
<ellipse cx="835" cy="261" rx="1.0" ry="1.0"/>
<ellipse cx="852.6" cy="265" rx="1.0" ry="1.0"/>
<ellipse cx="827.5" cy="271" rx="2.2" ry="1.3"/>
<ellipse cx="838" cy="268.7" rx="1.6" ry="1.3"/>
<ellipse cx="842.7" cy="271" rx="1.2" ry="1.2"/>
<ellipse cx="831" cy="275.7" rx="1.6" ry="1.2"/>
<ellipse cx="831" cy="284.5" rx="1.8" ry="1.2"/>
<ellipse cx="836.8" cy="285.7" rx="2.2" ry="1.2"/>
<ellipse cx="842" cy="281.6" rx="1.4" ry="1.0"/>
<ellipse cx="833.3" cy="291.6" rx="1.3" ry="1.1"/>
<ellipse cx="838" cy="290.4" rx="1.3" ry="1.0"/>
<ellipse cx="832" cy="297.4" rx="1.6" ry="1.1"/>
<ellipse cx="842.7" cy="298" rx="1.0" ry="0.9"/>
<ellipse cx="845" cy="303" rx="0.9" ry="0.9"/>
<ellipse cx="821" cy="313.8" rx="2.6" ry="1.4"/>
<ellipse cx="815.7" cy="309.7" rx="0.9" ry="0.9"/>
<ellipse cx="903" cy="311.4" rx="1.3" ry="1.3"/>
<ellipse cx="835.6" cy="318.5" rx="0.9" ry="0.9"/>
<ellipse cx="836.8" cy="329" rx="0.9" ry="0.9"/>
<ellipse cx="850.9" cy="332.5" rx="1.7" ry="1.9"/>
<ellipse cx="855.5" cy="335.4" rx="1.3" ry="2.4"/>
<ellipse cx="842" cy="346" rx="1.0" ry="1.0"/>
<ellipse cx="818.7" cy="367.6" rx="1.8" ry="1.0"/>
<ellipse cx="826.3" cy="374" rx="1.5" ry="1.2"/>
<ellipse cx="829" cy="376" rx="1.5" ry="1.2"/>
<ellipse cx="842" cy="396.9" rx="1.0" ry="1.0"/>
<ellipse cx="849.7" cy="396.3" rx="2.0" ry="1.4"/>
<ellipse cx="855.5" cy="394" rx="2.4" ry="1.3"/>
<ellipse cx="861.5" cy="392.8" rx="2.4" ry="1.1"/>
<ellipse cx="842" cy="429.6" rx="1.6" ry="1.6"/>
<ellipse cx="845.6" cy="433" rx="1.6" ry="1.9"/>
<ellipse cx="813.4" cy="444.3" rx="1.3" ry="1.9"/>
<ellipse cx="864.3" cy="437.8" rx="1.8" ry="1.4"/>
<ellipse cx="965" cy="444.3" rx="1.6" ry="1.8"/>
<ellipse cx="966" cy="459" rx="0.8" ry="0.8"/>
</g>
<g fill="none" stroke="#000" stroke-width="1.1" stroke-linejoin="round">
<path d="M793 362.2L800 363.6L806 365.6L811.5 366.8" stroke-width="2.4" stroke-linecap="round"/>
<ellipse cx="893.6" cy="452.5" rx="1.9" ry="1.7" fill="#fff"/><ellipse cx="900.6" cy="454.2" rx="1.9" ry="1.6" fill="#fff"/>
<path d="M700 368.8H704.2Q706.6 369.2 706.5 371.2Q706.4 373 704.2 373.3H700"/>
<path d="M700 448.6L707.5 450.6L712.5 451.3L718.8 456.3L724.4 459.4L730 451.3L734.4 447.5L739.4 448.8L740 455L743 457L746 454.8L749 456L752 459.5L755 462.5"/>
</g>
</g>
<rect x="700.1" y="44.2" width="290.8" height="417.8" fill="none" stroke="#000" stroke-width="2.2"/>
<rect x="696.8" y="480.8" width="296.5" height="209" fill="#fff" stroke="#000" stroke-width="3.6"/>
<text x="845.5" y="501.4" text-anchor="middle" font-size="18.4" font-weight="bold" fill="#111" textLength="87" lengthAdjust="spacingAndGlyphs">LEGENDA</text>
<rect x="709.7" y="512.0" width="33.6" height="23.5" fill="#e61eb4"/>
<text class="leg" x="755" y="527.5" textLength="162" lengthAdjust="spacingAndGlyphs">Hujan Ekstrem ( &gt; 50 mm/jam)</text>
<rect x="709.7" y="541.1" width="33.6" height="23.5" fill="#ea2820"/>
<text class="leg" x="755" y="556.6" textLength="200" lengthAdjust="spacingAndGlyphs">Hujan Sangat Lebat ( 20 - 50 mm/jam)</text>
<rect x="709.7" y="570.2" width="33.6" height="23.5" fill="#ec8c1e"/>
<text class="leg" x="755" y="585.7" textLength="162.5" lengthAdjust="spacingAndGlyphs">Hujan Lebat ( 10 - 20 mm/jam)</text>
<rect x="709.7" y="599.2" width="33.6" height="23.5" fill="#f0d01e"/>
<text class="leg" x="755" y="614.7" textLength="163.5" lengthAdjust="spacingAndGlyphs">Hujan Sedang ( 5 - 10 mm/jam)</text>
<rect x="709.7" y="628.3" width="33.6" height="23.5" fill="#66e81e"/>
<text class="leg" x="755" y="643.8" textLength="165.5" lengthAdjust="spacingAndGlyphs">Hujan Ringan ( 0,1 - 5 mm/jam)</text>
<rect x="709.7" y="657.4" width="33.6" height="23.5" fill="#e6e6e4"/>
<text class="leg" x="755" y="672.9" textLength="44.5" lengthAdjust="spacingAndGlyphs">Berawan</text>
<rect x="723" y="701" width="236" height="16" fill="#8a8a8a"/>
<text x="727.3" y="712.6" font-size="10" fill="#f4f4f4" textLength="227.5" lengthAdjust="spacingAndGlyphs">Copyright Pusat Meteorologi Publik BMKG, 2025</text>
<g shape-rendering="crispEdges">
<rect x="102.60" y="728" width="69.45" height="11.2" fill="#e6e6e4"/>
<rect x="171.75" y="728" width="69.45" height="11.2" fill="#baf0ba"/>
<rect x="240.90" y="728" width="69.45" height="11.2" fill="#86ee86"/>
<rect x="310.05" y="728" width="69.45" height="11.2" fill="#66e81e"/>
<rect x="379.20" y="728" width="69.45" height="11.2" fill="#a2e81e"/>
<rect x="448.35" y="728" width="69.45" height="11.2" fill="#f0f01e"/>
<rect x="517.50" y="728" width="69.45" height="11.2" fill="#f0d01e"/>
<rect x="586.65" y="728" width="69.45" height="11.2" fill="#eaa81e"/>
<rect x="655.80" y="728" width="69.45" height="11.2" fill="#ee8c1e"/>
<rect x="724.95" y="728" width="69.45" height="11.2" fill="#ea6420"/>
<rect x="794.10" y="728" width="69.45" height="11.2" fill="#ea2820"/>
<rect x="863.25" y="728" width="69.45" height="11.2" fill="#e61eb4"/>
</g>
<g class="tick" text-anchor="middle" filter="url(#bl)">
<text transform="translate(102.0 749.7) scale(1.45 1)">0.01</text>
<text transform="translate(171.2 749.7) scale(1.45 1)">0.1</text>
<text transform="translate(240.3 749.7) scale(1.45 1)">0.5</text>
<text transform="translate(309.4 749.7) scale(1.45 1)">1</text>
<text transform="translate(378.6 749.7) scale(1.45 1)">3</text>
<text transform="translate(447.7 749.7) scale(1.45 1)">5</text>
<text transform="translate(516.9 749.7) scale(1.45 1)">7</text>
<text transform="translate(586.0 749.7) scale(1.45 1)">10</text>
<text transform="translate(655.2 749.7) scale(1.45 1)">14</text>
<text transform="translate(724.3 749.7) scale(1.45 1)">17</text>
<text transform="translate(793.5 749.7) scale(1.45 1)">20</text>
<text transform="translate(862.6 749.7) scale(1.45 1)">50</text>
</g>
<text x="31" y="742.4" font-size="20" fill="#0a0a64" textLength="48" lengthAdjust="spacingAndGlyphs">(mm)</text>
<text x="937.5" y="742.4" font-size="20" fill="#0a0a64" textLength="48" lengthAdjust="spacingAndGlyphs">(mm)</text>
<text x="36" y="763.6" font-size="9" font-style="italic" fill="#111" textLength="224" lengthAdjust="spacing">Data Awal: Selasa 28 Oktober 2025 19.00 WIB</text>
<g font-size="9.5" font-style="italic" font-weight="bold" filter="url(#bl)">
<text x="387" y="763.6" fill="#ff2020" textLength="58" lengthAdjust="spacingAndGlyphs">Minimum :</text>
<text x="463" y="763.6" fill="#ff2020" textLength="30" lengthAdjust="spacingAndGlyphs">0 mm</text>
<text x="500.3" y="763.4" fill="#111" font-style="normal" font-weight="normal">|</text>
<text x="507" y="763.6" fill="#1030ff" textLength="67" lengthAdjust="spacingAndGlyphs">Maksimum :</text>
<text x="589" y="763.6" fill="#1030ff" textLength="37" lengthAdjust="spacingAndGlyphs">29 mm</text>
</g>
<text x="804.6" y="763.7" font-size="10" fill="#111" textLength="185.5" lengthAdjust="spacingAndGlyphs">Sumber Data: WRF 10KM-CIPS BMKG</text>
<text x="72.6" y="13.5" font-size="15.6" font-weight="bold" fill="#000" textLength="561.5" lengthAdjust="spacingAndGlyphs">Prediksi Akumulasi Curah Hujan 1 Jam Wilayah JABODETABEK</text>
<text x="74" y="33.5" font-size="13.4" font-weight="bold" font-style="italic" fill="#000" textLength="351.5" lengthAdjust="spacingAndGlyphs">Valid: Kamis 30 Oktober 2025 19.00 - 20.00 WIB</text>
<text x="928.5" y="12" font-size="9" font-weight="bold" fill="#000" style="font-family:'DejaVu Serif','Liberation Serif',serif" textLength="62" lengthAdjust="spacingAndGlyphs">[+48 ~ +49]</text>
<g>
<clipPath id="lg"><circle cx="51.5" cy="16.5" r="17.2"/></clipPath>
<g clip-path="url(#lg)">
<rect x="43" y="-1" width="17" height="3" fill="#0a3cd0"/>
<rect x="38" y="4.6" width="27.5" height="2.3" fill="#0a3cd0"/>
<rect x="36" y="8.6" width="6.3" height="1.4" fill="#5a78dc"/>
<rect x="54" y="8.6" width="13.5" height="1.5" fill="#0a3cd0"/>
<rect x="61" y="11.2" width="8" height="2.4" fill="#7a8ee0"/>
<rect x="34" y="16.1" width="35" height="0.9" fill="#999"/>
<rect x="34.9" y="19.2" width="9.7" height="2.5" fill="#9ccc90"/>
<rect x="44.6" y="21.2" width="23" height="1.1" fill="#a8d4a0"/>
<rect x="36" y="22.9" width="31.2" height="1.2" fill="#2a9a0a"/>
<rect x="49.7" y="25" width="16.1" height="1.3" fill="#2a9a0a"/>
<rect x="38.3" y="26.3" width="12.6" height="1.7" fill="#2a9a0a"/>
<rect x="53.5" y="28.9" width="8.8" height="1.4" fill="#2a9a0a"/>
<rect x="43.4" y="30.9" width="12.6" height="2" fill="#2a9a0a"/>
</g>
<text x="35.2" y="41.7" font-size="9.4" font-weight="bold" fill="#111" textLength="33" lengthAdjust="spacingAndGlyphs">BMKG</text>
</g>
</svg></body></html>
